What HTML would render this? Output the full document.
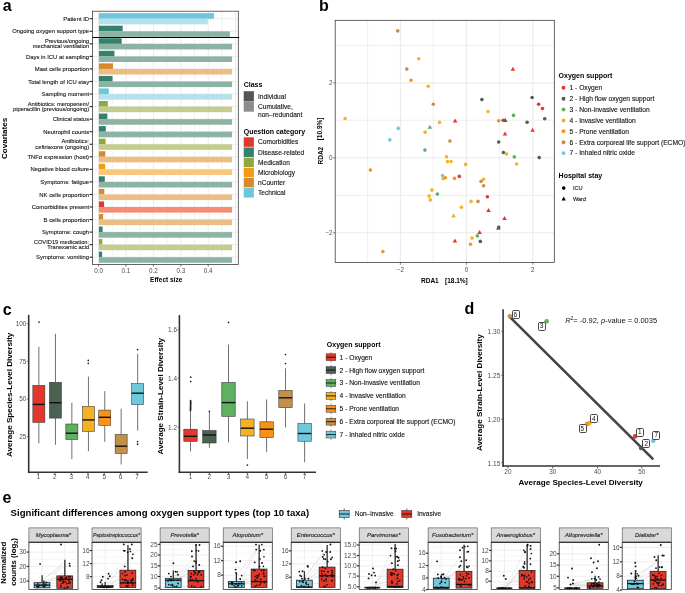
<!DOCTYPE html>
<html><head><meta charset="utf-8"><style>
html,body{margin:0;padding:0;background:#fff;}
body{width:685px;height:593px;overflow:hidden;}
svg{display:block;will-change:transform;font-family:"Liberation Sans",sans-serif;}
</style></head><body>
<svg width="685" height="593" viewBox="0 0 685 593">
<rect width="685" height="593" fill="#fff"/>
<text x="2.70" y="10.90" font-size="16" text-anchor="start" fill="#000" font-weight="bold">a</text>
<line x1="98.60" y1="11.20" x2="98.60" y2="264.40" stroke="#ebebeb" stroke-width="1.0"/>
<line x1="112.30" y1="11.20" x2="112.30" y2="264.40" stroke="#ebebeb" stroke-width="0.7"/>
<line x1="126.00" y1="11.20" x2="126.00" y2="264.40" stroke="#ebebeb" stroke-width="1.0"/>
<line x1="139.70" y1="11.20" x2="139.70" y2="264.40" stroke="#ebebeb" stroke-width="0.7"/>
<line x1="153.40" y1="11.20" x2="153.40" y2="264.40" stroke="#ebebeb" stroke-width="1.0"/>
<line x1="167.10" y1="11.20" x2="167.10" y2="264.40" stroke="#ebebeb" stroke-width="0.7"/>
<line x1="180.80" y1="11.20" x2="180.80" y2="264.40" stroke="#ebebeb" stroke-width="1.0"/>
<line x1="194.50" y1="11.20" x2="194.50" y2="264.40" stroke="#ebebeb" stroke-width="0.7"/>
<line x1="208.20" y1="11.20" x2="208.20" y2="264.40" stroke="#ebebeb" stroke-width="1.0"/>
<line x1="221.90" y1="11.20" x2="221.90" y2="264.40" stroke="#ebebeb" stroke-width="0.7"/>
<line x1="235.60" y1="11.20" x2="235.60" y2="264.40" stroke="#ebebeb" stroke-width="1.0"/>
<line x1="92.40" y1="18.75" x2="238.30" y2="18.75" stroke="#ebebeb" stroke-width="1.0"/>
<line x1="92.40" y1="31.30" x2="238.30" y2="31.30" stroke="#ebebeb" stroke-width="1.0"/>
<line x1="92.40" y1="43.85" x2="238.30" y2="43.85" stroke="#ebebeb" stroke-width="1.0"/>
<line x1="92.40" y1="56.40" x2="238.30" y2="56.40" stroke="#ebebeb" stroke-width="1.0"/>
<line x1="92.40" y1="68.95" x2="238.30" y2="68.95" stroke="#ebebeb" stroke-width="1.0"/>
<line x1="92.40" y1="81.50" x2="238.30" y2="81.50" stroke="#ebebeb" stroke-width="1.0"/>
<line x1="92.40" y1="94.05" x2="238.30" y2="94.05" stroke="#ebebeb" stroke-width="1.0"/>
<line x1="92.40" y1="106.60" x2="238.30" y2="106.60" stroke="#ebebeb" stroke-width="1.0"/>
<line x1="92.40" y1="119.15" x2="238.30" y2="119.15" stroke="#ebebeb" stroke-width="1.0"/>
<line x1="92.40" y1="131.70" x2="238.30" y2="131.70" stroke="#ebebeb" stroke-width="1.0"/>
<line x1="92.40" y1="144.25" x2="238.30" y2="144.25" stroke="#ebebeb" stroke-width="1.0"/>
<line x1="92.40" y1="156.80" x2="238.30" y2="156.80" stroke="#ebebeb" stroke-width="1.0"/>
<line x1="92.40" y1="169.35" x2="238.30" y2="169.35" stroke="#ebebeb" stroke-width="1.0"/>
<line x1="92.40" y1="181.90" x2="238.30" y2="181.90" stroke="#ebebeb" stroke-width="1.0"/>
<line x1="92.40" y1="194.45" x2="238.30" y2="194.45" stroke="#ebebeb" stroke-width="1.0"/>
<line x1="92.40" y1="207.00" x2="238.30" y2="207.00" stroke="#ebebeb" stroke-width="1.0"/>
<line x1="92.40" y1="219.55" x2="238.30" y2="219.55" stroke="#ebebeb" stroke-width="1.0"/>
<line x1="92.40" y1="232.10" x2="238.30" y2="232.10" stroke="#ebebeb" stroke-width="1.0"/>
<line x1="92.40" y1="244.65" x2="238.30" y2="244.65" stroke="#ebebeb" stroke-width="1.0"/>
<line x1="92.40" y1="257.20" x2="238.30" y2="257.20" stroke="#ebebeb" stroke-width="1.0"/>
<rect x="98.90" y="13.15" width="115.10" height="5.60" fill="#6DC7DC" stroke="none" stroke-width="0.6"/>
<rect x="98.90" y="18.75" width="108.90" height="5.60" fill="#B4E1EC" stroke="none" stroke-width="0.6"/>
<rect x="98.90" y="25.70" width="23.80" height="5.60" fill="#35806F" stroke="none" stroke-width="0.6"/>
<rect x="98.90" y="31.30" width="131.00" height="5.60" fill="#8DB3A4" stroke="none" stroke-width="0.6"/>
<rect x="98.90" y="38.25" width="22.80" height="5.60" fill="#35806F" stroke="none" stroke-width="0.6"/>
<rect x="98.90" y="43.85" width="133.20" height="5.60" fill="#8DB3A4" stroke="none" stroke-width="0.6"/>
<rect x="98.90" y="50.80" width="15.60" height="5.60" fill="#35806F" stroke="none" stroke-width="0.6"/>
<rect x="98.90" y="56.40" width="133.20" height="5.60" fill="#8DB3A4" stroke="none" stroke-width="0.6"/>
<rect x="98.90" y="63.35" width="14.10" height="5.60" fill="#D68A2E" stroke="none" stroke-width="0.6"/>
<rect x="98.90" y="68.95" width="133.20" height="5.60" fill="#EBBE84" stroke="none" stroke-width="0.6"/>
<rect x="98.90" y="75.90" width="13.60" height="5.60" fill="#35806F" stroke="none" stroke-width="0.6"/>
<rect x="98.90" y="81.50" width="133.20" height="5.60" fill="#8DB3A4" stroke="none" stroke-width="0.6"/>
<rect x="98.90" y="88.45" width="9.90" height="5.60" fill="#6DC7DC" stroke="none" stroke-width="0.6"/>
<rect x="98.90" y="94.05" width="133.20" height="5.60" fill="#B4E1EC" stroke="none" stroke-width="0.6"/>
<rect x="98.90" y="101.00" width="8.90" height="5.60" fill="#8FA83C" stroke="none" stroke-width="0.6"/>
<rect x="98.90" y="106.60" width="133.20" height="5.60" fill="#C5CD8C" stroke="none" stroke-width="0.6"/>
<rect x="98.90" y="113.55" width="8.40" height="5.60" fill="#35806F" stroke="none" stroke-width="0.6"/>
<rect x="98.90" y="119.15" width="133.20" height="5.60" fill="#8DB3A4" stroke="none" stroke-width="0.6"/>
<rect x="98.90" y="126.10" width="6.90" height="5.60" fill="#35806F" stroke="none" stroke-width="0.6"/>
<rect x="98.90" y="131.70" width="133.20" height="5.60" fill="#8DB3A4" stroke="none" stroke-width="0.6"/>
<rect x="98.90" y="138.65" width="6.70" height="5.60" fill="#8FA83C" stroke="none" stroke-width="0.6"/>
<rect x="98.90" y="144.25" width="133.20" height="5.60" fill="#C5CD8C" stroke="none" stroke-width="0.6"/>
<rect x="98.90" y="151.20" width="6.40" height="5.60" fill="#D68A2E" stroke="none" stroke-width="0.6"/>
<rect x="98.90" y="156.80" width="133.20" height="5.60" fill="#EBBE84" stroke="none" stroke-width="0.6"/>
<rect x="98.90" y="163.75" width="6.20" height="5.60" fill="#F59A14" stroke="none" stroke-width="0.6"/>
<rect x="98.90" y="169.35" width="133.20" height="5.60" fill="#F9C77C" stroke="none" stroke-width="0.6"/>
<rect x="98.90" y="176.30" width="5.90" height="5.60" fill="#35806F" stroke="none" stroke-width="0.6"/>
<rect x="98.90" y="181.90" width="133.20" height="5.60" fill="#8DB3A4" stroke="none" stroke-width="0.6"/>
<rect x="98.90" y="188.85" width="5.40" height="5.60" fill="#D68A2E" stroke="none" stroke-width="0.6"/>
<rect x="98.90" y="194.45" width="133.20" height="5.60" fill="#EBBE84" stroke="none" stroke-width="0.6"/>
<rect x="98.90" y="201.40" width="5.20" height="5.60" fill="#E2382B" stroke="none" stroke-width="0.6"/>
<rect x="98.90" y="207.00" width="133.20" height="5.60" fill="#F68C73" stroke="none" stroke-width="0.6"/>
<rect x="98.90" y="213.95" width="4.20" height="5.60" fill="#D68A2E" stroke="none" stroke-width="0.6"/>
<rect x="98.90" y="219.55" width="133.20" height="5.60" fill="#EBBE84" stroke="none" stroke-width="0.6"/>
<rect x="98.90" y="226.50" width="3.70" height="5.60" fill="#35806F" stroke="none" stroke-width="0.6"/>
<rect x="98.90" y="232.10" width="133.20" height="5.60" fill="#8DB3A4" stroke="none" stroke-width="0.6"/>
<rect x="98.90" y="239.05" width="3.40" height="5.60" fill="#8FA83C" stroke="none" stroke-width="0.6"/>
<rect x="98.90" y="244.65" width="133.20" height="5.60" fill="#C5CD8C" stroke="none" stroke-width="0.6"/>
<rect x="98.90" y="251.60" width="3.20" height="5.60" fill="#35806F" stroke="none" stroke-width="0.6"/>
<rect x="98.90" y="257.20" width="133.20" height="5.60" fill="#8DB3A4" stroke="none" stroke-width="0.6"/>
<rect x="92.40" y="11.20" width="145.90" height="253.20" fill="none" stroke="#333333" stroke-width="0.75"/>
<line x1="92.40" y1="37.50" x2="239.20" y2="37.50" stroke="#000" stroke-width="1.1"/>
<line x1="89.60" y1="18.75" x2="92.40" y2="18.75" stroke="#222" stroke-width="1.1"/>
<text x="89.10" y="20.85" font-size="5.9" text-anchor="end" fill="#1a1a1a" stroke="#1a1a1a" stroke-width="0.12">Patient ID</text>
<line x1="89.60" y1="31.30" x2="92.40" y2="31.30" stroke="#222" stroke-width="1.1"/>
<text x="89.10" y="33.40" font-size="5.9" text-anchor="end" fill="#1a1a1a" stroke="#1a1a1a" stroke-width="0.12">Ongoing oxygen support type</text>
<line x1="89.60" y1="43.85" x2="92.40" y2="43.85" stroke="#222" stroke-width="1.1"/>
<text x="89.10" y="42.95" font-size="5.72" text-anchor="end" fill="#1a1a1a" stroke="#1a1a1a" stroke-width="0.12">Previous/ongoing</text>
<text x="89.10" y="48.35" font-size="5.72" text-anchor="end" fill="#1a1a1a" stroke="#1a1a1a" stroke-width="0.12">mechanical ventilation</text>
<line x1="89.60" y1="56.40" x2="92.40" y2="56.40" stroke="#222" stroke-width="1.1"/>
<text x="89.10" y="58.50" font-size="5.9" text-anchor="end" fill="#1a1a1a" stroke="#1a1a1a" stroke-width="0.12">Days in ICU at sampling</text>
<line x1="89.60" y1="68.95" x2="92.40" y2="68.95" stroke="#222" stroke-width="1.1"/>
<text x="89.10" y="71.05" font-size="5.9" text-anchor="end" fill="#1a1a1a" stroke="#1a1a1a" stroke-width="0.12">Mast cells proportion</text>
<line x1="89.60" y1="81.50" x2="92.40" y2="81.50" stroke="#222" stroke-width="1.1"/>
<text x="89.10" y="83.60" font-size="5.9" text-anchor="end" fill="#1a1a1a" stroke="#1a1a1a" stroke-width="0.12">Total length of ICU stay</text>
<line x1="89.60" y1="94.05" x2="92.40" y2="94.05" stroke="#222" stroke-width="1.1"/>
<text x="89.10" y="96.15" font-size="5.9" text-anchor="end" fill="#1a1a1a" stroke="#1a1a1a" stroke-width="0.12">Sampling moment</text>
<line x1="89.60" y1="106.60" x2="92.40" y2="106.60" stroke="#222" stroke-width="1.1"/>
<text x="89.10" y="105.70" font-size="5.72" text-anchor="end" fill="#1a1a1a" stroke="#1a1a1a" stroke-width="0.12">Antibiotics: meropenem/</text>
<text x="89.10" y="111.10" font-size="5.72" text-anchor="end" fill="#1a1a1a" stroke="#1a1a1a" stroke-width="0.12">piperacillin (previous/ongoing)</text>
<line x1="89.60" y1="119.15" x2="92.40" y2="119.15" stroke="#222" stroke-width="1.1"/>
<text x="89.10" y="121.25" font-size="5.9" text-anchor="end" fill="#1a1a1a" stroke="#1a1a1a" stroke-width="0.12">Clinical status</text>
<line x1="89.60" y1="131.70" x2="92.40" y2="131.70" stroke="#222" stroke-width="1.1"/>
<text x="89.10" y="133.80" font-size="5.9" text-anchor="end" fill="#1a1a1a" stroke="#1a1a1a" stroke-width="0.12">Neutrophil counts</text>
<line x1="89.60" y1="144.25" x2="92.40" y2="144.25" stroke="#222" stroke-width="1.1"/>
<text x="89.10" y="143.35" font-size="5.72" text-anchor="end" fill="#1a1a1a" stroke="#1a1a1a" stroke-width="0.12">Antibiotics:</text>
<text x="89.10" y="148.75" font-size="5.72" text-anchor="end" fill="#1a1a1a" stroke="#1a1a1a" stroke-width="0.12">ceftriaxone (ongoing)</text>
<line x1="89.60" y1="156.80" x2="92.40" y2="156.80" stroke="#222" stroke-width="1.1"/>
<text x="89.10" y="158.90" font-size="5.9" text-anchor="end" fill="#1a1a1a" stroke="#1a1a1a" stroke-width="0.12">TNFα expression (host)</text>
<line x1="89.60" y1="169.35" x2="92.40" y2="169.35" stroke="#222" stroke-width="1.1"/>
<text x="89.10" y="171.45" font-size="5.9" text-anchor="end" fill="#1a1a1a" stroke="#1a1a1a" stroke-width="0.12">Negative blood culture</text>
<line x1="89.60" y1="181.90" x2="92.40" y2="181.90" stroke="#222" stroke-width="1.1"/>
<text x="89.10" y="184.00" font-size="5.9" text-anchor="end" fill="#1a1a1a" stroke="#1a1a1a" stroke-width="0.12">Symptoms: fatigue</text>
<line x1="89.60" y1="194.45" x2="92.40" y2="194.45" stroke="#222" stroke-width="1.1"/>
<text x="89.10" y="196.55" font-size="5.9" text-anchor="end" fill="#1a1a1a" stroke="#1a1a1a" stroke-width="0.12">NK cells proportion</text>
<line x1="89.60" y1="207.00" x2="92.40" y2="207.00" stroke="#222" stroke-width="1.1"/>
<text x="89.10" y="209.10" font-size="5.9" text-anchor="end" fill="#1a1a1a" stroke="#1a1a1a" stroke-width="0.12">Comorbidities present</text>
<line x1="89.60" y1="219.55" x2="92.40" y2="219.55" stroke="#222" stroke-width="1.1"/>
<text x="89.10" y="221.65" font-size="5.9" text-anchor="end" fill="#1a1a1a" stroke="#1a1a1a" stroke-width="0.12">B cells proportion</text>
<line x1="89.60" y1="232.10" x2="92.40" y2="232.10" stroke="#222" stroke-width="1.1"/>
<text x="89.10" y="234.20" font-size="5.9" text-anchor="end" fill="#1a1a1a" stroke="#1a1a1a" stroke-width="0.12">Symptoms: cough</text>
<line x1="89.60" y1="244.65" x2="92.40" y2="244.65" stroke="#222" stroke-width="1.1"/>
<text x="89.10" y="243.75" font-size="5.72" text-anchor="end" fill="#1a1a1a" stroke="#1a1a1a" stroke-width="0.12">COVID19 medication:</text>
<text x="89.10" y="249.15" font-size="5.72" text-anchor="end" fill="#1a1a1a" stroke="#1a1a1a" stroke-width="0.12">Tranexamic acid</text>
<line x1="89.60" y1="257.20" x2="92.40" y2="257.20" stroke="#222" stroke-width="1.1"/>
<text x="89.10" y="259.30" font-size="5.9" text-anchor="end" fill="#1a1a1a" stroke="#1a1a1a" stroke-width="0.12">Symptoms: vomiting</text>
<line x1="98.60" y1="264.40" x2="98.60" y2="266.80" stroke="#333333" stroke-width="0.6"/>
<text x="98.60" y="272.70" font-size="6.3" text-anchor="middle" fill="#4d4d4d">0.0</text>
<line x1="126.00" y1="264.40" x2="126.00" y2="266.80" stroke="#333333" stroke-width="0.6"/>
<text x="126.00" y="272.70" font-size="6.3" text-anchor="middle" fill="#4d4d4d">0.1</text>
<line x1="153.40" y1="264.40" x2="153.40" y2="266.80" stroke="#333333" stroke-width="0.6"/>
<text x="153.40" y="272.70" font-size="6.3" text-anchor="middle" fill="#4d4d4d">0.2</text>
<line x1="180.80" y1="264.40" x2="180.80" y2="266.80" stroke="#333333" stroke-width="0.6"/>
<text x="180.80" y="272.70" font-size="6.3" text-anchor="middle" fill="#4d4d4d">0.3</text>
<line x1="208.20" y1="264.40" x2="208.20" y2="266.80" stroke="#333333" stroke-width="0.6"/>
<text x="208.20" y="272.70" font-size="6.3" text-anchor="middle" fill="#4d4d4d">0.4</text>
<text x="166.20" y="282.40" font-size="6.5" text-anchor="middle" fill="#000" font-weight="bold">Effect size</text>
<text x="6.90" y="138.40" font-size="8.1" text-anchor="middle" fill="#000" font-weight="bold" transform="rotate(-90 6.90 138.40)">Covariates</text>
<text x="243.70" y="87.40" font-size="7.0" text-anchor="start" fill="#000" font-weight="bold">Class</text>
<rect x="243.70" y="91.20" width="10.20" height="10.10" fill="#555555" stroke="none" stroke-width="0.6"/>
<rect x="243.70" y="101.30" width="10.20" height="10.40" fill="#8C8C8C" stroke="none" stroke-width="0.6"/>
<text x="258.00" y="98.60" font-size="6.6" text-anchor="start" fill="#111" stroke="#1a1a1a" stroke-width="0.12">Individual</text>
<text x="258.00" y="108.70" font-size="6.6" text-anchor="start" fill="#111" stroke="#1a1a1a" stroke-width="0.12">Cumulative,</text>
<text x="258.00" y="116.80" font-size="6.6" text-anchor="start" fill="#111" stroke="#1a1a1a" stroke-width="0.12">non–redundant</text>
<text x="243.70" y="134.00" font-size="7.0" text-anchor="start" fill="#000" font-weight="bold">Question category</text>
<rect x="243.70" y="137.30" width="10.20" height="9.50" fill="#E2382B" stroke="none" stroke-width="0.6"/>
<text x="258.00" y="144.40" font-size="6.6" text-anchor="start" fill="#111" stroke="#1a1a1a" stroke-width="0.12">Comorbidities</text>
<rect x="243.70" y="147.45" width="10.20" height="9.50" fill="#35806F" stroke="none" stroke-width="0.6"/>
<text x="258.00" y="154.55" font-size="6.6" text-anchor="start" fill="#111" stroke="#1a1a1a" stroke-width="0.12">Disease-related</text>
<rect x="243.70" y="157.60" width="10.20" height="9.50" fill="#8FA83C" stroke="none" stroke-width="0.6"/>
<text x="258.00" y="164.70" font-size="6.6" text-anchor="start" fill="#111" stroke="#1a1a1a" stroke-width="0.12">Medication</text>
<rect x="243.70" y="167.75" width="10.20" height="9.50" fill="#F59A14" stroke="none" stroke-width="0.6"/>
<text x="258.00" y="174.85" font-size="6.6" text-anchor="start" fill="#111" stroke="#1a1a1a" stroke-width="0.12">Microbiology</text>
<rect x="243.70" y="177.90" width="10.20" height="9.50" fill="#D68A2E" stroke="none" stroke-width="0.6"/>
<text x="258.00" y="185.00" font-size="6.6" text-anchor="start" fill="#111" stroke="#1a1a1a" stroke-width="0.12">nCounter</text>
<rect x="243.70" y="188.05" width="10.20" height="9.50" fill="#6DC7DC" stroke="none" stroke-width="0.6"/>
<text x="258.00" y="195.15" font-size="6.6" text-anchor="start" fill="#111" stroke="#1a1a1a" stroke-width="0.12">Technical</text>
<text x="319.10" y="11.40" font-size="16" text-anchor="start" fill="#000" font-weight="bold">b</text>
<line x1="367.70" y1="20.30" x2="367.70" y2="262.40" stroke="#ebebeb" stroke-width="0.8"/>
<line x1="400.40" y1="20.30" x2="400.40" y2="262.40" stroke="#ebebeb" stroke-width="1.1"/>
<line x1="433.20" y1="20.30" x2="433.20" y2="262.40" stroke="#ebebeb" stroke-width="0.8"/>
<line x1="466.40" y1="20.30" x2="466.40" y2="262.40" stroke="#ebebeb" stroke-width="1.1"/>
<line x1="499.60" y1="20.30" x2="499.60" y2="262.40" stroke="#ebebeb" stroke-width="0.8"/>
<line x1="532.80" y1="20.30" x2="532.80" y2="262.40" stroke="#ebebeb" stroke-width="1.1"/>
<line x1="335.20" y1="45.40" x2="554.30" y2="45.40" stroke="#ebebeb" stroke-width="0.8"/>
<line x1="335.20" y1="82.90" x2="554.30" y2="82.90" stroke="#ebebeb" stroke-width="1.1"/>
<line x1="335.20" y1="120.30" x2="554.30" y2="120.30" stroke="#ebebeb" stroke-width="0.8"/>
<line x1="335.20" y1="157.80" x2="554.30" y2="157.80" stroke="#ebebeb" stroke-width="1.1"/>
<line x1="335.20" y1="195.30" x2="554.30" y2="195.30" stroke="#ebebeb" stroke-width="0.8"/>
<line x1="335.20" y1="232.80" x2="554.30" y2="232.80" stroke="#ebebeb" stroke-width="1.1"/>
<circle cx="397.70" cy="30.90" r="1.8" fill="#C49049"/>
<circle cx="418.70" cy="58.80" r="1.8" fill="#F4B223"/>
<circle cx="406.80" cy="69.10" r="1.8" fill="#C49049"/>
<circle cx="411.00" cy="80.30" r="1.8" fill="#F69318"/>
<circle cx="428.20" cy="86.30" r="1.8" fill="#F4B223"/>
<circle cx="433.30" cy="104.30" r="1.8" fill="#C49049"/>
<circle cx="345.10" cy="118.50" r="1.8" fill="#F4B223"/>
<circle cx="439.50" cy="122.40" r="1.8" fill="#F4B223"/>
<circle cx="398.30" cy="128.40" r="1.8" fill="#6FC9DD"/>
<path d="M429.90 124.73L432.20 128.87L427.60 128.87Z" fill="#5DB160"/>
<circle cx="425.10" cy="132.20" r="1.8" fill="#F4B223"/>
<circle cx="389.80" cy="139.90" r="1.8" fill="#6FC9DD"/>
<path d="M512.90 66.63L515.20 70.77L510.60 70.77Z" fill="#E2382B"/>
<circle cx="481.90" cy="99.60" r="1.8" fill="#4B6152"/>
<circle cx="532.10" cy="97.50" r="1.8" fill="#4B6152"/>
<circle cx="538.60" cy="104.20" r="1.8" fill="#E2382B"/>
<circle cx="542.50" cy="108.50" r="1.8" fill="#E2382B"/>
<circle cx="488.00" cy="111.50" r="1.8" fill="#F4B223"/>
<circle cx="513.50" cy="115.40" r="1.8" fill="#5DB160"/>
<circle cx="544.70" cy="118.80" r="1.8" fill="#4B6152"/>
<path d="M455.10 118.43L457.40 122.57L452.80 122.57Z" fill="#E2382B"/>
<circle cx="498.70" cy="120.80" r="1.8" fill="#F69318"/>
<circle cx="503.20" cy="120.20" r="1.8" fill="#E2382B"/>
<path d="M505.20 117.83L507.50 121.97L502.90 121.97Z" fill="#4B6152"/>
<circle cx="527.10" cy="122.20" r="1.8" fill="#4B6152"/>
<path d="M532.60 127.63L534.90 131.77L530.30 131.77Z" fill="#E2382B"/>
<path d="M505.00 131.43L507.30 135.57L502.70 135.57Z" fill="#E2382B"/>
<circle cx="424.90" cy="150.10" r="1.8" fill="#5DB160"/>
<circle cx="370.40" cy="170.10" r="1.8" fill="#F69318"/>
<circle cx="442.50" cy="175.50" r="1.8" fill="#6FC9DD"/>
<circle cx="443.10" cy="178.60" r="1.8" fill="#F4B223"/>
<circle cx="445.40" cy="177.70" r="1.8" fill="#F69318"/>
<circle cx="454.50" cy="178.40" r="1.8" fill="#F69318"/>
<circle cx="459.30" cy="176.40" r="1.8" fill="#E2382B"/>
<circle cx="431.90" cy="190.10" r="1.8" fill="#F4B223"/>
<circle cx="429.20" cy="196.10" r="1.8" fill="#F4B223"/>
<circle cx="437.40" cy="194.10" r="1.8" fill="#5DB160"/>
<circle cx="430.30" cy="199.90" r="1.8" fill="#F4B223"/>
<circle cx="382.90" cy="251.60" r="1.8" fill="#F69318"/>
<circle cx="449.90" cy="141.10" r="1.8" fill="#C49049"/>
<circle cx="498.70" cy="142.00" r="1.8" fill="#4B6152"/>
<circle cx="503.40" cy="152.50" r="1.8" fill="#4B6152"/>
<circle cx="506.50" cy="154.00" r="1.8" fill="#F4B223"/>
<circle cx="514.30" cy="156.90" r="1.8" fill="#5DB160"/>
<circle cx="539.20" cy="157.60" r="1.8" fill="#4B6152"/>
<circle cx="446.50" cy="156.80" r="1.8" fill="#F4B223"/>
<circle cx="447.50" cy="161.60" r="1.8" fill="#F4B223"/>
<circle cx="451.10" cy="161.60" r="1.8" fill="#F4B223"/>
<circle cx="465.60" cy="164.40" r="1.8" fill="#F4B223"/>
<circle cx="516.70" cy="164.00" r="1.8" fill="#F4B223"/>
<circle cx="483.60" cy="179.20" r="1.8" fill="#F4B223"/>
<circle cx="481.10" cy="181.40" r="1.8" fill="#C49049"/>
<circle cx="483.60" cy="185.80" r="1.8" fill="#C49049"/>
<circle cx="487.40" cy="196.70" r="1.8" fill="#E2382B"/>
<circle cx="471.10" cy="201.40" r="1.8" fill="#F4B223"/>
<circle cx="478.00" cy="201.40" r="1.8" fill="#C49049"/>
<circle cx="461.40" cy="207.20" r="1.8" fill="#F4B223"/>
<path d="M488.50 207.93L490.80 212.07L486.20 212.07Z" fill="#E2382B"/>
<path d="M453.60 213.33L455.90 217.47L451.30 217.47Z" fill="#F4B223"/>
<path d="M504.50 215.93L506.80 220.07L502.20 220.07Z" fill="#E2382B"/>
<path d="M498.30 225.73L500.60 229.87L496.00 229.87Z" fill="#E2382B"/>
<circle cx="498.70" cy="227.40" r="1.8" fill="#4B6152"/>
<path d="M479.60 229.93L481.90 234.07L477.30 234.07Z" fill="#E2382B"/>
<circle cx="477.40" cy="235.90" r="1.8" fill="#5DB160"/>
<circle cx="472.00" cy="238.10" r="1.8" fill="#F4B223"/>
<circle cx="480.30" cy="241.40" r="1.8" fill="#4B6152"/>
<path d="M454.90 238.43L457.20 242.57L452.60 242.57Z" fill="#E2382B"/>
<circle cx="470.50" cy="244.30" r="1.8" fill="#F69318"/>
<rect x="335.20" y="20.30" width="219.10" height="242.10" fill="none" stroke="#333333" stroke-width="0.75"/>
<line x1="332.90" y1="82.90" x2="335.20" y2="82.90" stroke="#333333" stroke-width="0.6"/>
<text x="332.60" y="85.10" font-size="6.3" text-anchor="end" fill="#4d4d4d">2</text>
<line x1="332.90" y1="157.80" x2="335.20" y2="157.80" stroke="#333333" stroke-width="0.6"/>
<text x="332.60" y="160.00" font-size="6.3" text-anchor="end" fill="#4d4d4d">0</text>
<line x1="332.90" y1="232.80" x2="335.20" y2="232.80" stroke="#333333" stroke-width="0.6"/>
<text x="332.60" y="235.00" font-size="6.3" text-anchor="end" fill="#4d4d4d">−2</text>
<line x1="400.40" y1="262.40" x2="400.40" y2="264.70" stroke="#333333" stroke-width="0.6"/>
<text x="400.40" y="271.80" font-size="6.3" text-anchor="middle" fill="#4d4d4d">−2</text>
<line x1="466.40" y1="262.40" x2="466.40" y2="264.70" stroke="#333333" stroke-width="0.6"/>
<text x="466.40" y="271.80" font-size="6.3" text-anchor="middle" fill="#4d4d4d">0</text>
<line x1="532.80" y1="262.40" x2="532.80" y2="264.70" stroke="#333333" stroke-width="0.6"/>
<text x="532.80" y="271.80" font-size="6.3" text-anchor="middle" fill="#4d4d4d">2</text>
<text x="421.00" y="283.00" font-size="6.5" text-anchor="start" fill="#000" font-weight="bold">RDA1</text>
<text x="445.00" y="283.00" font-size="6.5" text-anchor="start" fill="#000" font-weight="bold">[18.1%]</text>
<text x="322.50" y="164.50" font-size="6.5" text-anchor="start" fill="#000" font-weight="bold" transform="rotate(-90 322.50 164.50)">RDA2</text>
<text x="322.50" y="140.30" font-size="6.5" text-anchor="start" fill="#000" font-weight="bold" transform="rotate(-90 322.50 140.30)">[10.9%]</text>
<text x="558.60" y="78.30" font-size="7.0" text-anchor="start" fill="#000" font-weight="bold">Oxygen support</text>
<circle cx="563.50" cy="87.80" r="1.95" fill="#E2382B"/>
<text x="569.50" y="90.10" font-size="6.7" text-anchor="start" fill="#111" stroke="#1a1a1a" stroke-width="0.12">1 - Oxygen</text>
<circle cx="563.50" cy="98.68" r="1.95" fill="#4B6152"/>
<text x="569.50" y="100.98" font-size="6.7" text-anchor="start" fill="#111" stroke="#1a1a1a" stroke-width="0.12">2 - High flow oxygen support</text>
<circle cx="563.50" cy="109.56" r="1.95" fill="#5DB160"/>
<text x="569.50" y="111.86" font-size="6.7" text-anchor="start" fill="#111" stroke="#1a1a1a" stroke-width="0.12">3 - Non-invasive ventilation</text>
<circle cx="563.50" cy="120.44" r="1.95" fill="#F4B223"/>
<text x="569.50" y="122.74" font-size="6.7" text-anchor="start" fill="#111" stroke="#1a1a1a" stroke-width="0.12">4 - Invasive ventilation</text>
<circle cx="563.50" cy="131.32" r="1.95" fill="#F69318"/>
<text x="569.50" y="133.62" font-size="6.7" text-anchor="start" fill="#111" stroke="#1a1a1a" stroke-width="0.12">5 - Prone ventilation</text>
<circle cx="563.50" cy="142.20" r="1.95" fill="#C49049"/>
<text x="569.50" y="144.50" font-size="6.7" text-anchor="start" fill="#111" stroke="#1a1a1a" stroke-width="0.12">6 - Extra corporeal life support (ECMO)</text>
<circle cx="563.50" cy="153.08" r="1.95" fill="#6FC9DD"/>
<text x="569.50" y="155.38" font-size="6.7" text-anchor="start" fill="#111" stroke="#1a1a1a" stroke-width="0.12">7 - Inhaled nitric oxide</text>
<text x="558.60" y="178.20" font-size="7.0" text-anchor="start" fill="#000" font-weight="bold">Hospital stay</text>
<circle cx="563.70" cy="188.10" r="1.8" fill="#000"/>
<text x="572.90" y="189.80" font-size="5.6" text-anchor="start" fill="#111" stroke="#1a1a1a" stroke-width="0.12">ICU</text>
<path d="M563.70 196.60L565.85 200.47L561.55 200.47Z" fill="#000"/>
<text x="572.90" y="201.00" font-size="5.6" text-anchor="start" fill="#111" stroke="#1a1a1a" stroke-width="0.12">Ward</text>
<text x="2.70" y="314.60" font-size="16" text-anchor="start" fill="#000" font-weight="bold">c</text>
<line x1="28.70" y1="314.90" x2="28.70" y2="473.10" stroke="#333" stroke-width="1.6"/>
<line x1="27.90" y1="472.30" x2="147.70" y2="472.30" stroke="#333" stroke-width="1.6"/>
<line x1="26.80" y1="323.60" x2="28.70" y2="323.60" stroke="#333333" stroke-width="0.6"/>
<text x="26.30" y="325.90" font-size="6.4" text-anchor="end" fill="#4d4d4d">100</text>
<line x1="26.80" y1="361.30" x2="28.70" y2="361.30" stroke="#333333" stroke-width="0.6"/>
<text x="26.30" y="363.60" font-size="6.4" text-anchor="end" fill="#4d4d4d">75</text>
<line x1="26.80" y1="399.00" x2="28.70" y2="399.00" stroke="#333333" stroke-width="0.6"/>
<text x="26.30" y="401.30" font-size="6.4" text-anchor="end" fill="#4d4d4d">50</text>
<line x1="26.80" y1="436.60" x2="28.70" y2="436.60" stroke="#333333" stroke-width="0.6"/>
<text x="26.30" y="438.90" font-size="6.4" text-anchor="end" fill="#4d4d4d">25</text>
<line x1="38.30" y1="473.00" x2="38.30" y2="474.90" stroke="#333333" stroke-width="0.8"/>
<text x="38.30" y="479.10" font-size="6.4" text-anchor="middle" fill="#4d4d4d">1</text>
<line x1="54.90" y1="473.00" x2="54.90" y2="474.90" stroke="#333333" stroke-width="0.8"/>
<text x="54.90" y="479.10" font-size="6.4" text-anchor="middle" fill="#4d4d4d">2</text>
<line x1="71.30" y1="473.00" x2="71.30" y2="474.90" stroke="#333333" stroke-width="0.8"/>
<text x="71.30" y="479.10" font-size="6.4" text-anchor="middle" fill="#4d4d4d">3</text>
<line x1="87.90" y1="473.00" x2="87.90" y2="474.90" stroke="#333333" stroke-width="0.8"/>
<text x="87.90" y="479.10" font-size="6.4" text-anchor="middle" fill="#4d4d4d">4</text>
<line x1="104.20" y1="473.00" x2="104.20" y2="474.90" stroke="#333333" stroke-width="0.8"/>
<text x="104.20" y="479.10" font-size="6.4" text-anchor="middle" fill="#4d4d4d">5</text>
<line x1="120.60" y1="473.00" x2="120.60" y2="474.90" stroke="#333333" stroke-width="0.8"/>
<text x="120.60" y="479.10" font-size="6.4" text-anchor="middle" fill="#4d4d4d">6</text>
<line x1="137.10" y1="473.00" x2="137.10" y2="474.90" stroke="#333333" stroke-width="0.8"/>
<text x="137.10" y="479.10" font-size="6.4" text-anchor="middle" fill="#4d4d4d">7</text>
<line x1="38.85" y1="346.70" x2="38.85" y2="385.40" stroke="#333" stroke-width="0.7"/>
<line x1="38.85" y1="422.40" x2="38.85" y2="443.40" stroke="#333" stroke-width="0.7"/>
<rect x="32.85" y="385.40" width="12.00" height="37.00" fill="#E2382B" stroke="#333" stroke-width="0.55"/>
<line x1="32.85" y1="404.40" x2="44.85" y2="404.40" stroke="#111" stroke-width="1.4"/>
<circle cx="39.00" cy="322.10" r="0.85" fill="#222"/>
<line x1="55.45" y1="333.80" x2="55.45" y2="382.30" stroke="#333" stroke-width="0.7"/>
<line x1="55.45" y1="418.10" x2="55.45" y2="444.80" stroke="#333" stroke-width="0.7"/>
<rect x="49.45" y="382.30" width="12.00" height="35.80" fill="#4B6152" stroke="#333" stroke-width="0.55"/>
<line x1="49.45" y1="402.70" x2="61.45" y2="402.70" stroke="#111" stroke-width="1.4"/>
<line x1="71.85" y1="402.70" x2="71.85" y2="424.00" stroke="#333" stroke-width="0.7"/>
<line x1="71.85" y1="439.50" x2="71.85" y2="459.20" stroke="#333" stroke-width="0.7"/>
<rect x="65.85" y="424.00" width="12.00" height="15.50" fill="#5DB160" stroke="#333" stroke-width="0.55"/>
<line x1="65.85" y1="433.20" x2="77.85" y2="433.20" stroke="#111" stroke-width="1.4"/>
<line x1="88.45" y1="376.60" x2="88.45" y2="406.40" stroke="#333" stroke-width="0.7"/>
<line x1="88.45" y1="431.40" x2="88.45" y2="451.20" stroke="#333" stroke-width="0.7"/>
<rect x="82.45" y="406.40" width="12.00" height="25.00" fill="#F4B223" stroke="#333" stroke-width="0.55"/>
<line x1="82.45" y1="419.90" x2="94.45" y2="419.90" stroke="#111" stroke-width="1.4"/>
<circle cx="88.30" cy="360.40" r="0.85" fill="#222"/>
<circle cx="88.30" cy="363.30" r="0.85" fill="#222"/>
<line x1="104.75" y1="391.20" x2="104.75" y2="410.10" stroke="#333" stroke-width="0.7"/>
<line x1="104.75" y1="425.40" x2="104.75" y2="441.80" stroke="#333" stroke-width="0.7"/>
<rect x="98.75" y="410.10" width="12.00" height="15.30" fill="#F69318" stroke="#333" stroke-width="0.55"/>
<line x1="98.75" y1="417.30" x2="110.75" y2="417.30" stroke="#111" stroke-width="1.4"/>
<line x1="121.15" y1="408.70" x2="121.15" y2="434.40" stroke="#333" stroke-width="0.7"/>
<line x1="121.15" y1="453.50" x2="121.15" y2="464.50" stroke="#333" stroke-width="0.7"/>
<rect x="115.15" y="434.40" width="12.00" height="19.10" fill="#C49049" stroke="#333" stroke-width="0.55"/>
<line x1="115.15" y1="446.20" x2="127.15" y2="446.20" stroke="#111" stroke-width="1.4"/>
<line x1="137.65" y1="353.60" x2="137.65" y2="383.70" stroke="#333" stroke-width="0.7"/>
<line x1="137.65" y1="404.70" x2="137.65" y2="430.50" stroke="#333" stroke-width="0.7"/>
<rect x="131.65" y="383.70" width="12.00" height="21.00" fill="#6FC9DD" stroke="#333" stroke-width="0.55"/>
<line x1="131.65" y1="393.20" x2="143.65" y2="393.20" stroke="#111" stroke-width="1.4"/>
<circle cx="137.60" cy="349.60" r="0.85" fill="#222"/>
<circle cx="137.60" cy="441.60" r="0.85" fill="#222"/>
<circle cx="137.60" cy="444.20" r="0.85" fill="#222"/>
<text x="12.50" y="394.80" font-size="8.1" text-anchor="middle" fill="#000" font-weight="bold" transform="rotate(-90 12.50 394.80)">Average Species-Level Diversity</text>
<line x1="179.40" y1="315.10" x2="179.40" y2="473.10" stroke="#333" stroke-width="1.6"/>
<line x1="178.60" y1="472.30" x2="316.00" y2="472.30" stroke="#333" stroke-width="1.6"/>
<line x1="177.50" y1="329.80" x2="179.40" y2="329.80" stroke="#333333" stroke-width="0.6"/>
<text x="177.00" y="332.10" font-size="6.4" text-anchor="end" fill="#4d4d4d">1.6</text>
<line x1="177.50" y1="378.20" x2="179.40" y2="378.20" stroke="#333333" stroke-width="0.6"/>
<text x="177.00" y="380.50" font-size="6.4" text-anchor="end" fill="#4d4d4d">1.4</text>
<line x1="177.50" y1="427.30" x2="179.40" y2="427.30" stroke="#333333" stroke-width="0.6"/>
<text x="177.00" y="429.60" font-size="6.4" text-anchor="end" fill="#4d4d4d">1.2</text>
<line x1="190.50" y1="473.00" x2="190.50" y2="474.90" stroke="#333333" stroke-width="0.8"/>
<text x="190.50" y="479.10" font-size="6.4" text-anchor="middle" fill="#4d4d4d">1</text>
<line x1="209.40" y1="473.00" x2="209.40" y2="474.90" stroke="#333333" stroke-width="0.8"/>
<text x="209.40" y="479.10" font-size="6.4" text-anchor="middle" fill="#4d4d4d">2</text>
<line x1="228.50" y1="473.00" x2="228.50" y2="474.90" stroke="#333333" stroke-width="0.8"/>
<text x="228.50" y="479.10" font-size="6.4" text-anchor="middle" fill="#4d4d4d">3</text>
<line x1="247.40" y1="473.00" x2="247.40" y2="474.90" stroke="#333333" stroke-width="0.8"/>
<text x="247.40" y="479.10" font-size="6.4" text-anchor="middle" fill="#4d4d4d">4</text>
<line x1="266.60" y1="473.00" x2="266.60" y2="474.90" stroke="#333333" stroke-width="0.8"/>
<text x="266.60" y="479.10" font-size="6.4" text-anchor="middle" fill="#4d4d4d">5</text>
<line x1="285.50" y1="473.00" x2="285.50" y2="474.90" stroke="#333333" stroke-width="0.8"/>
<text x="285.50" y="479.10" font-size="6.4" text-anchor="middle" fill="#4d4d4d">6</text>
<line x1="304.60" y1="473.00" x2="304.60" y2="474.90" stroke="#333333" stroke-width="0.8"/>
<text x="304.60" y="479.10" font-size="6.4" text-anchor="middle" fill="#4d4d4d">7</text>
<line x1="190.50" y1="401.00" x2="190.50" y2="429.20" stroke="#333" stroke-width="0.7"/>
<line x1="190.50" y1="441.40" x2="190.50" y2="451.30" stroke="#333" stroke-width="0.7"/>
<rect x="183.80" y="429.20" width="13.40" height="12.20" fill="#E2382B" stroke="#333" stroke-width="0.55"/>
<line x1="183.80" y1="436.30" x2="197.20" y2="436.30" stroke="#111" stroke-width="1.4"/>
<circle cx="190.70" cy="377.20" r="0.85" fill="#222"/>
<circle cx="190.70" cy="381.60" r="0.85" fill="#222"/>
<circle cx="190.59" cy="400.60" r="0.85" fill="#222"/>
<circle cx="190.49" cy="401.50" r="0.85" fill="#222"/>
<circle cx="190.79" cy="402.40" r="0.85" fill="#222"/>
<circle cx="190.44" cy="403.30" r="0.85" fill="#222"/>
<circle cx="190.72" cy="404.20" r="0.85" fill="#222"/>
<circle cx="190.62" cy="405.10" r="0.85" fill="#222"/>
<circle cx="190.43" cy="406.00" r="0.85" fill="#222"/>
<circle cx="190.70" cy="406.90" r="0.85" fill="#222"/>
<circle cx="190.42" cy="407.80" r="0.85" fill="#222"/>
<circle cx="190.66" cy="408.70" r="0.85" fill="#222"/>
<circle cx="190.44" cy="409.60" r="0.85" fill="#222"/>
<circle cx="190.45" cy="410.50" r="0.85" fill="#222"/>
<line x1="209.40" y1="411.80" x2="209.40" y2="430.50" stroke="#333" stroke-width="0.7"/>
<line x1="209.40" y1="443.00" x2="209.40" y2="447.80" stroke="#333" stroke-width="0.7"/>
<rect x="202.70" y="430.50" width="13.40" height="12.50" fill="#4B6152" stroke="#333" stroke-width="0.55"/>
<line x1="202.70" y1="435.00" x2="216.10" y2="435.00" stroke="#111" stroke-width="1.4"/>
<circle cx="209.40" cy="411.30" r="0.85" fill="#222"/>
<line x1="228.50" y1="344.60" x2="228.50" y2="382.40" stroke="#333" stroke-width="0.7"/>
<line x1="228.50" y1="416.40" x2="228.50" y2="442.40" stroke="#333" stroke-width="0.7"/>
<rect x="221.80" y="382.40" width="13.40" height="34.00" fill="#5DB160" stroke="#333" stroke-width="0.55"/>
<line x1="221.80" y1="402.60" x2="235.20" y2="402.60" stroke="#111" stroke-width="1.4"/>
<circle cx="228.50" cy="322.40" r="0.85" fill="#222"/>
<line x1="247.40" y1="401.30" x2="247.40" y2="419.00" stroke="#333" stroke-width="0.7"/>
<line x1="247.40" y1="436.00" x2="247.40" y2="459.00" stroke="#333" stroke-width="0.7"/>
<rect x="240.70" y="419.00" width="13.40" height="17.00" fill="#F4B223" stroke="#333" stroke-width="0.55"/>
<line x1="240.70" y1="428.20" x2="254.10" y2="428.20" stroke="#111" stroke-width="1.4"/>
<circle cx="247.40" cy="465.10" r="0.85" fill="#222"/>
<line x1="266.60" y1="399.40" x2="266.60" y2="421.80" stroke="#333" stroke-width="0.7"/>
<line x1="266.60" y1="437.50" x2="266.60" y2="452.00" stroke="#333" stroke-width="0.7"/>
<rect x="259.90" y="421.80" width="13.40" height="15.70" fill="#F69318" stroke="#333" stroke-width="0.55"/>
<line x1="259.90" y1="429.20" x2="273.30" y2="429.20" stroke="#111" stroke-width="1.4"/>
<line x1="285.50" y1="368.30" x2="285.50" y2="390.40" stroke="#333" stroke-width="0.7"/>
<line x1="285.50" y1="407.70" x2="285.50" y2="427.30" stroke="#333" stroke-width="0.7"/>
<rect x="278.80" y="390.40" width="13.40" height="17.30" fill="#C49049" stroke="#333" stroke-width="0.55"/>
<line x1="278.80" y1="397.80" x2="292.20" y2="397.80" stroke="#111" stroke-width="1.4"/>
<circle cx="285.50" cy="354.50" r="0.85" fill="#222"/>
<circle cx="285.50" cy="363.50" r="0.85" fill="#222"/>
<line x1="304.60" y1="403.50" x2="304.60" y2="423.50" stroke="#333" stroke-width="0.7"/>
<line x1="304.60" y1="441.20" x2="304.60" y2="462.30" stroke="#333" stroke-width="0.7"/>
<rect x="297.90" y="423.50" width="13.40" height="17.70" fill="#6FC9DD" stroke="#333" stroke-width="0.55"/>
<line x1="297.90" y1="433.50" x2="311.30" y2="433.50" stroke="#111" stroke-width="1.4"/>
<text x="162.60" y="396.20" font-size="8.1" text-anchor="middle" fill="#000" font-weight="bold" transform="rotate(-90 162.60 396.20)">Average Strain-Level Diversity</text>
<text x="326.80" y="346.50" font-size="7.0" text-anchor="start" fill="#000" font-weight="bold">Oxygen support</text>
<line x1="331.00" y1="352.20" x2="331.00" y2="362.40" stroke="#444" stroke-width="0.6"/>
<rect x="326.10" y="353.80" width="9.70" height="6.80" fill="#E2382B" stroke="#333" stroke-width="0.5"/>
<line x1="326.10" y1="357.20" x2="335.80" y2="357.20" stroke="#111" stroke-width="0.9"/>
<text x="339.60" y="359.60" font-size="6.7" text-anchor="start" fill="#111" stroke="#1a1a1a" stroke-width="0.12">1 - Oxygen</text>
<line x1="331.00" y1="365.10" x2="331.00" y2="375.30" stroke="#444" stroke-width="0.6"/>
<rect x="326.10" y="366.70" width="9.70" height="6.80" fill="#4B6152" stroke="#333" stroke-width="0.5"/>
<line x1="326.10" y1="370.10" x2="335.80" y2="370.10" stroke="#111" stroke-width="0.9"/>
<text x="339.60" y="372.50" font-size="6.7" text-anchor="start" fill="#111" stroke="#1a1a1a" stroke-width="0.12">2 - High flow oxygen support</text>
<line x1="331.00" y1="378.00" x2="331.00" y2="388.20" stroke="#444" stroke-width="0.6"/>
<rect x="326.10" y="379.60" width="9.70" height="6.80" fill="#5DB160" stroke="#333" stroke-width="0.5"/>
<line x1="326.10" y1="383.00" x2="335.80" y2="383.00" stroke="#111" stroke-width="0.9"/>
<text x="339.60" y="385.40" font-size="6.7" text-anchor="start" fill="#111" stroke="#1a1a1a" stroke-width="0.12">3 - Non-invasive ventilation</text>
<line x1="331.00" y1="390.90" x2="331.00" y2="401.10" stroke="#444" stroke-width="0.6"/>
<rect x="326.10" y="392.50" width="9.70" height="6.80" fill="#F4B223" stroke="#333" stroke-width="0.5"/>
<line x1="326.10" y1="395.90" x2="335.80" y2="395.90" stroke="#111" stroke-width="0.9"/>
<text x="339.60" y="398.30" font-size="6.7" text-anchor="start" fill="#111" stroke="#1a1a1a" stroke-width="0.12">4 - Invasive ventilation</text>
<line x1="331.00" y1="403.80" x2="331.00" y2="414.00" stroke="#444" stroke-width="0.6"/>
<rect x="326.10" y="405.40" width="9.70" height="6.80" fill="#F69318" stroke="#333" stroke-width="0.5"/>
<line x1="326.10" y1="408.80" x2="335.80" y2="408.80" stroke="#111" stroke-width="0.9"/>
<text x="339.60" y="411.20" font-size="6.7" text-anchor="start" fill="#111" stroke="#1a1a1a" stroke-width="0.12">5 - Prone ventilation</text>
<line x1="331.00" y1="416.70" x2="331.00" y2="426.90" stroke="#444" stroke-width="0.6"/>
<rect x="326.10" y="418.30" width="9.70" height="6.80" fill="#C49049" stroke="#333" stroke-width="0.5"/>
<line x1="326.10" y1="421.70" x2="335.80" y2="421.70" stroke="#111" stroke-width="0.9"/>
<text x="339.60" y="424.10" font-size="6.7" text-anchor="start" fill="#111" stroke="#1a1a1a" stroke-width="0.12">6 - Extra corporeal life support (ECMO)</text>
<line x1="331.00" y1="429.60" x2="331.00" y2="439.80" stroke="#444" stroke-width="0.6"/>
<rect x="326.10" y="431.20" width="9.70" height="6.80" fill="#6FC9DD" stroke="#333" stroke-width="0.5"/>
<line x1="326.10" y1="434.60" x2="335.80" y2="434.60" stroke="#111" stroke-width="0.9"/>
<text x="339.60" y="437.00" font-size="6.7" text-anchor="start" fill="#111" stroke="#1a1a1a" stroke-width="0.12">7 - Inhaled nitric oxide</text>
<text x="464.60" y="314.30" font-size="16" text-anchor="start" fill="#000" font-weight="bold">d</text>
<line x1="503.10" y1="309.20" x2="503.10" y2="466.80" stroke="#333" stroke-width="1.6"/>
<line x1="502.30" y1="466.00" x2="660.00" y2="466.00" stroke="#333" stroke-width="1.6"/>
<line x1="501.20" y1="331.10" x2="503.10" y2="331.10" stroke="#333333" stroke-width="0.6"/>
<text x="500.40" y="333.90" font-size="6.6" text-anchor="end" fill="#4d4d4d">1.30</text>
<line x1="501.20" y1="375.30" x2="503.10" y2="375.30" stroke="#333333" stroke-width="0.6"/>
<text x="500.40" y="378.10" font-size="6.6" text-anchor="end" fill="#4d4d4d">1.25</text>
<line x1="501.20" y1="419.20" x2="503.10" y2="419.20" stroke="#333333" stroke-width="0.6"/>
<text x="500.40" y="422.00" font-size="6.6" text-anchor="end" fill="#4d4d4d">1.20</text>
<line x1="501.20" y1="462.70" x2="503.10" y2="462.70" stroke="#333333" stroke-width="0.6"/>
<text x="500.40" y="465.50" font-size="6.6" text-anchor="end" fill="#4d4d4d">1.15</text>
<line x1="507.90" y1="466.60" x2="507.90" y2="468.50" stroke="#333333" stroke-width="0.8"/>
<text x="507.90" y="473.80" font-size="6.4" text-anchor="middle" fill="#4d4d4d">20</text>
<line x1="552.70" y1="466.60" x2="552.70" y2="468.50" stroke="#333333" stroke-width="0.8"/>
<text x="552.70" y="473.80" font-size="6.4" text-anchor="middle" fill="#4d4d4d">30</text>
<line x1="597.60" y1="466.60" x2="597.60" y2="468.50" stroke="#333333" stroke-width="0.8"/>
<text x="597.60" y="473.80" font-size="6.4" text-anchor="middle" fill="#4d4d4d">40</text>
<line x1="641.80" y1="466.60" x2="641.80" y2="468.50" stroke="#333333" stroke-width="0.8"/>
<text x="641.80" y="473.80" font-size="6.4" text-anchor="middle" fill="#4d4d4d">50</text>
<line x1="510.00" y1="317.20" x2="653.30" y2="459.40" stroke="#444" stroke-width="2.6"/>
<circle cx="509.90" cy="316.30" r="2.3" fill="#C49049"/>
<circle cx="546.60" cy="321.20" r="2.3" fill="#5DB160"/>
<circle cx="589.20" cy="423.20" r="2.3" fill="#F4B223"/>
<circle cx="587.20" cy="423.90" r="2.3" fill="#F69318"/>
<circle cx="635.10" cy="436.40" r="2.3" fill="#E2382B"/>
<circle cx="653.30" cy="440.80" r="2.3" fill="#6FC9DD"/>
<circle cx="641.10" cy="447.90" r="2.3" fill="#4B6152"/>
<rect x="512.50" y="310.50" width="7.00" height="8.00" fill="#fff" stroke="#1a1a1a" stroke-width="0.8" rx="1.2"/>
<text x="515.20" y="316.50" font-size="6.4" text-anchor="middle" fill="#111">6</text>
<rect x="538.50" y="322.50" width="7.00" height="8.00" fill="#fff" stroke="#1a1a1a" stroke-width="0.8" rx="1.2"/>
<text x="541.50" y="328.40" font-size="6.4" text-anchor="middle" fill="#111">3</text>
<rect x="590.50" y="414.50" width="7.00" height="8.00" fill="#fff" stroke="#1a1a1a" stroke-width="0.8" rx="1.2"/>
<text x="593.90" y="420.80" font-size="6.4" text-anchor="middle" fill="#111">4</text>
<rect x="579.50" y="424.50" width="7.00" height="8.00" fill="#fff" stroke="#1a1a1a" stroke-width="0.8" rx="1.2"/>
<text x="582.40" y="430.90" font-size="6.4" text-anchor="middle" fill="#111">5</text>
<rect x="636.50" y="428.50" width="7.00" height="8.00" fill="#fff" stroke="#1a1a1a" stroke-width="0.8" rx="1.2"/>
<text x="639.80" y="434.00" font-size="6.4" text-anchor="middle" fill="#111">1</text>
<rect x="652.50" y="431.50" width="7.00" height="8.00" fill="#fff" stroke="#1a1a1a" stroke-width="0.8" rx="1.2"/>
<text x="656.20" y="437.00" font-size="6.4" text-anchor="middle" fill="#111">7</text>
<rect x="642.50" y="439.50" width="7.00" height="8.00" fill="#fff" stroke="#1a1a1a" stroke-width="0.8" rx="1.2"/>
<text x="646.20" y="445.70" font-size="6.4" text-anchor="middle" fill="#111">2</text>
<text x="580.70" y="485.40" font-size="8.1" text-anchor="middle" fill="#000" font-weight="bold">Average Species-Level Diversity</text>
<text x="481.90" y="392.60" font-size="8.1" text-anchor="middle" fill="#000" font-weight="bold" transform="rotate(-90 481.90 392.60)">Average Strain-Level Diversity</text>
<text x="565.3" y="322.9" font-size="7.5" fill="#111"><tspan font-style="italic">R</tspan><tspan font-size="4.6" dy="-2.9">2</tspan><tspan dy="2.9">= -0.92, </tspan><tspan font-style="italic">p</tspan><tspan>-value = 0.0035</tspan></text>
<text x="2.50" y="502.70" font-size="16" text-anchor="start" fill="#000" font-weight="bold">e</text>
<text x="10.60" y="516.00" font-size="9.6" text-anchor="start" fill="#000" font-weight="bold">Significant differences among oxygen support types (top 10 taxa)</text>
<line x1="344.20" y1="508.40" x2="344.20" y2="519.60" stroke="#333" stroke-width="0.7"/>
<rect x="339.20" y="510.60" width="10.00" height="6.80" fill="#6FC9DD" stroke="#333" stroke-width="0.6"/>
<line x1="339.20" y1="514.00" x2="349.20" y2="514.00" stroke="#111" stroke-width="0.9"/>
<text x="354.70" y="516.30" font-size="6.5" text-anchor="start" fill="#111" stroke="#1a1a1a" stroke-width="0.12">Non–invasive</text>
<line x1="406.80" y1="508.40" x2="406.80" y2="519.60" stroke="#333" stroke-width="0.7"/>
<rect x="401.80" y="510.60" width="10.00" height="6.80" fill="#E2382B" stroke="#333" stroke-width="0.6"/>
<line x1="401.80" y1="514.00" x2="411.80" y2="514.00" stroke="#111" stroke-width="0.9"/>
<text x="417.20" y="516.30" font-size="6.5" text-anchor="start" fill="#111" stroke="#1a1a1a" stroke-width="0.12">Invasive</text>
<text x="5.90" y="562.70" font-size="7.8" text-anchor="middle" fill="#000" font-weight="bold" transform="rotate(-90 5.90 562.70)">Normalized</text>
<text x="16.00" y="562.00" font-size="7.8" text-anchor="middle" fill="#000" font-weight="bold" transform="rotate(-90 16.00 562.00)">counts (log<tspan font-size="5.3" dy="1.7">2</tspan><tspan dy="-1.7">)</tspan></text>
<line x1="28.90" y1="544.95" x2="78.00" y2="544.95" stroke="#f3f3f3" stroke-width="0.6"/>
<line x1="28.90" y1="552.10" x2="78.00" y2="552.10" stroke="#ebebeb" stroke-width="0.8"/>
<line x1="28.90" y1="559.25" x2="78.00" y2="559.25" stroke="#f3f3f3" stroke-width="0.6"/>
<line x1="28.90" y1="566.40" x2="78.00" y2="566.40" stroke="#ebebeb" stroke-width="0.8"/>
<line x1="28.90" y1="573.55" x2="78.00" y2="573.55" stroke="#f3f3f3" stroke-width="0.6"/>
<line x1="28.90" y1="580.70" x2="78.00" y2="580.70" stroke="#ebebeb" stroke-width="0.8"/>
<line x1="28.90" y1="587.85" x2="78.00" y2="587.85" stroke="#f3f3f3" stroke-width="0.6"/>
<line x1="42.10" y1="542.30" x2="42.10" y2="589.60" stroke="#ebebeb" stroke-width="0.8"/>
<line x1="64.85" y1="542.30" x2="64.85" y2="589.60" stroke="#ebebeb" stroke-width="0.8"/>
<line x1="39.09" y1="582.65" x2="62.64" y2="583.46" stroke="#cfcfcf" stroke-width="0.4"/>
<line x1="42.72" y1="584.54" x2="64.02" y2="586.63" stroke="#cfcfcf" stroke-width="0.4"/>
<line x1="44.97" y1="587.78" x2="63.17" y2="563.02" stroke="#cfcfcf" stroke-width="0.4"/>
<line x1="40.57" y1="580.04" x2="67.38" y2="564.89" stroke="#cfcfcf" stroke-width="0.4"/>
<line x1="43.21" y1="580.38" x2="63.83" y2="577.04" stroke="#cfcfcf" stroke-width="0.4"/>
<line x1="38.58" y1="583.79" x2="62.50" y2="563.45" stroke="#cfcfcf" stroke-width="0.4"/>
<line x1="40.61" y1="585.03" x2="65.53" y2="573.00" stroke="#cfcfcf" stroke-width="0.4"/>
<line x1="42.10" y1="575.30" x2="42.10" y2="582.70" stroke="#2b2b2b" stroke-width="1.3"/>
<rect x="34.10" y="582.70" width="15.85" height="5.10" fill="#6FC9DD" stroke="#1a1a1a" stroke-width="0.75"/>
<line x1="34.10" y1="585.10" x2="49.95" y2="585.10" stroke="#111" stroke-width="1.3"/>
<circle cx="45.34" cy="584.49" r="0.85" fill="#111"/>
<circle cx="42.92" cy="584.25" r="0.85" fill="#111"/>
<circle cx="44.62" cy="586.96" r="0.85" fill="#111"/>
<circle cx="37.90" cy="587.41" r="0.85" fill="#111"/>
<circle cx="38.27" cy="586.46" r="0.85" fill="#111"/>
<circle cx="43.95" cy="583.37" r="0.85" fill="#111"/>
<circle cx="46.23" cy="582.46" r="0.85" fill="#111"/>
<circle cx="43.14" cy="586.19" r="0.85" fill="#111"/>
<circle cx="45.84" cy="585.16" r="0.85" fill="#111"/>
<circle cx="43.91" cy="581.23" r="0.85" fill="#111"/>
<circle cx="43.72" cy="586.22" r="0.85" fill="#111"/>
<circle cx="39.73" cy="585.57" r="0.85" fill="#111"/>
<circle cx="36.85" cy="586.08" r="0.85" fill="#111"/>
<circle cx="37.89" cy="583.92" r="0.85" fill="#111"/>
<circle cx="40.10" cy="564.10" r="0.95" fill="#111"/>
<line x1="64.85" y1="559.80" x2="64.85" y2="575.90" stroke="#2b2b2b" stroke-width="1.3"/>
<rect x="56.85" y="575.90" width="15.85" height="12.40" fill="#E2382B" stroke="#1a1a1a" stroke-width="0.75"/>
<line x1="56.85" y1="579.30" x2="72.70" y2="579.30" stroke="#111" stroke-width="1.3"/>
<circle cx="60.77" cy="585.31" r="0.85" fill="#111"/>
<circle cx="68.94" cy="580.94" r="0.85" fill="#111"/>
<circle cx="65.39" cy="581.61" r="0.85" fill="#111"/>
<circle cx="68.85" cy="583.15" r="0.85" fill="#111"/>
<circle cx="63.30" cy="581.22" r="0.85" fill="#111"/>
<circle cx="61.01" cy="587.10" r="0.85" fill="#111"/>
<circle cx="61.92" cy="579.09" r="0.85" fill="#111"/>
<circle cx="62.24" cy="583.23" r="0.85" fill="#111"/>
<circle cx="63.41" cy="581.26" r="0.85" fill="#111"/>
<circle cx="66.95" cy="587.46" r="0.85" fill="#111"/>
<circle cx="66.79" cy="583.56" r="0.85" fill="#111"/>
<circle cx="67.93" cy="586.83" r="0.85" fill="#111"/>
<circle cx="63.67" cy="582.54" r="0.85" fill="#111"/>
<circle cx="66.33" cy="577.60" r="0.85" fill="#111"/>
<circle cx="61.65" cy="577.18" r="0.85" fill="#111"/>
<circle cx="59.93" cy="580.34" r="0.85" fill="#111"/>
<circle cx="60.47" cy="578.15" r="0.85" fill="#111"/>
<circle cx="68.97" cy="576.70" r="0.85" fill="#111"/>
<circle cx="62.12" cy="578.12" r="0.85" fill="#111"/>
<circle cx="60.70" cy="580.62" r="0.85" fill="#111"/>
<circle cx="64.48" cy="588.10" r="0.85" fill="#111"/>
<circle cx="60.47" cy="577.40" r="0.85" fill="#111"/>
<circle cx="68.47" cy="579.47" r="0.85" fill="#111"/>
<circle cx="69.81" cy="576.67" r="0.85" fill="#111"/>
<circle cx="65.32" cy="578.10" r="0.85" fill="#111"/>
<circle cx="70.11" cy="582.53" r="0.85" fill="#111"/>
<circle cx="61.10" cy="544.50" r="0.95" fill="#111"/>
<circle cx="69.50" cy="563.60" r="0.95" fill="#111"/>
<circle cx="69.80" cy="565.90" r="0.95" fill="#111"/>
<rect x="28.90" y="527.90" width="49.10" height="14.40" fill="#D9D9D9" stroke="#4d4d4d" stroke-width="0.6"/>
<text x="53.45" y="536.90" font-size="5.9" text-anchor="middle" fill="#1a1a1a" font-style="italic" stroke="#1a1a1a" stroke-width="0.12">Mycoplasma*</text>
<line x1="28.90" y1="542.30" x2="78.00" y2="542.30" stroke="#222" stroke-width="1.1"/>
<rect x="28.90" y="542.30" width="49.10" height="47.30" fill="none" stroke="#333" stroke-width="0.8"/>
<line x1="26.70" y1="552.10" x2="28.90" y2="552.10" stroke="#222" stroke-width="1.1"/>
<text x="26.50" y="554.30" font-size="6.6" text-anchor="end" fill="#4d4d4d">30</text>
<line x1="26.70" y1="566.40" x2="28.90" y2="566.40" stroke="#222" stroke-width="1.1"/>
<text x="26.50" y="568.60" font-size="6.6" text-anchor="end" fill="#4d4d4d">20</text>
<line x1="26.70" y1="581.10" x2="28.90" y2="581.10" stroke="#222" stroke-width="1.1"/>
<text x="26.50" y="583.30" font-size="6.6" text-anchor="end" fill="#4d4d4d">10</text>
<line x1="92.00" y1="543.95" x2="141.10" y2="543.95" stroke="#f3f3f3" stroke-width="0.6"/>
<line x1="92.00" y1="550.50" x2="141.10" y2="550.50" stroke="#ebebeb" stroke-width="0.8"/>
<line x1="92.00" y1="557.05" x2="141.10" y2="557.05" stroke="#f3f3f3" stroke-width="0.6"/>
<line x1="92.00" y1="563.60" x2="141.10" y2="563.60" stroke="#ebebeb" stroke-width="0.8"/>
<line x1="92.00" y1="570.15" x2="141.10" y2="570.15" stroke="#f3f3f3" stroke-width="0.6"/>
<line x1="92.00" y1="576.70" x2="141.10" y2="576.70" stroke="#ebebeb" stroke-width="0.8"/>
<line x1="92.00" y1="583.25" x2="141.10" y2="583.25" stroke="#f3f3f3" stroke-width="0.6"/>
<line x1="105.20" y1="542.30" x2="105.20" y2="589.60" stroke="#ebebeb" stroke-width="0.8"/>
<line x1="127.95" y1="542.30" x2="127.95" y2="589.60" stroke="#ebebeb" stroke-width="0.8"/>
<line x1="103.29" y1="587.13" x2="126.88" y2="575.51" stroke="#cfcfcf" stroke-width="0.4"/>
<line x1="105.46" y1="582.67" x2="130.18" y2="578.63" stroke="#cfcfcf" stroke-width="0.4"/>
<line x1="107.69" y1="583.71" x2="131.83" y2="556.07" stroke="#cfcfcf" stroke-width="0.4"/>
<line x1="107.75" y1="587.06" x2="129.87" y2="580.03" stroke="#cfcfcf" stroke-width="0.4"/>
<line x1="104.04" y1="583.05" x2="124.18" y2="568.17" stroke="#cfcfcf" stroke-width="0.4"/>
<line x1="103.27" y1="581.78" x2="129.49" y2="558.38" stroke="#cfcfcf" stroke-width="0.4"/>
<line x1="108.70" y1="587.72" x2="131.85" y2="565.28" stroke="#cfcfcf" stroke-width="0.4"/>
<line x1="105.20" y1="582.00" x2="105.20" y2="585.60" stroke="#2b2b2b" stroke-width="1.3"/>
<rect x="97.20" y="585.60" width="15.85" height="2.00" fill="#6FC9DD" stroke="#1a1a1a" stroke-width="0.75"/>
<line x1="97.20" y1="586.80" x2="113.05" y2="586.80" stroke="#111" stroke-width="1.3"/>
<circle cx="102.13" cy="584.04" r="0.85" fill="#111"/>
<circle cx="101.95" cy="586.34" r="0.85" fill="#111"/>
<circle cx="108.94" cy="587.18" r="0.85" fill="#111"/>
<circle cx="108.50" cy="586.88" r="0.85" fill="#111"/>
<circle cx="109.71" cy="586.89" r="0.85" fill="#111"/>
<circle cx="104.96" cy="586.20" r="0.85" fill="#111"/>
<circle cx="103.36" cy="587.05" r="0.85" fill="#111"/>
<circle cx="104.05" cy="587.44" r="0.85" fill="#111"/>
<circle cx="107.67" cy="587.24" r="0.85" fill="#111"/>
<circle cx="101.36" cy="586.25" r="0.85" fill="#111"/>
<circle cx="101.31" cy="586.52" r="0.85" fill="#111"/>
<circle cx="106.93" cy="587.49" r="0.85" fill="#111"/>
<circle cx="101.14" cy="586.76" r="0.85" fill="#111"/>
<circle cx="106.85" cy="587.27" r="0.85" fill="#111"/>
<circle cx="102.80" cy="576.70" r="0.95" fill="#111"/>
<circle cx="101.50" cy="580.20" r="0.95" fill="#111"/>
<circle cx="100.50" cy="582.20" r="0.95" fill="#111"/>
<circle cx="108.50" cy="573.80" r="0.95" fill="#111"/>
<circle cx="109.80" cy="576.20" r="0.95" fill="#111"/>
<circle cx="108.00" cy="578.60" r="0.95" fill="#111"/>
<line x1="127.95" y1="544.90" x2="127.95" y2="570.20" stroke="#2b2b2b" stroke-width="1.3"/>
<rect x="119.95" y="570.20" width="15.85" height="17.40" fill="#E2382B" stroke="#1a1a1a" stroke-width="0.75"/>
<line x1="119.95" y1="582.90" x2="135.80" y2="582.90" stroke="#111" stroke-width="1.3"/>
<circle cx="127.22" cy="586.20" r="0.85" fill="#111"/>
<circle cx="124.77" cy="580.18" r="0.85" fill="#111"/>
<circle cx="125.10" cy="575.56" r="0.85" fill="#111"/>
<circle cx="127.06" cy="575.01" r="0.85" fill="#111"/>
<circle cx="126.34" cy="585.81" r="0.85" fill="#111"/>
<circle cx="132.40" cy="580.38" r="0.85" fill="#111"/>
<circle cx="127.97" cy="585.93" r="0.85" fill="#111"/>
<circle cx="122.66" cy="579.39" r="0.85" fill="#111"/>
<circle cx="122.49" cy="573.74" r="0.85" fill="#111"/>
<circle cx="127.66" cy="552.26" r="0.85" fill="#111"/>
<circle cx="126.04" cy="579.94" r="0.85" fill="#111"/>
<circle cx="131.08" cy="579.92" r="0.85" fill="#111"/>
<circle cx="125.18" cy="580.00" r="0.85" fill="#111"/>
<circle cx="128.03" cy="583.52" r="0.85" fill="#111"/>
<circle cx="132.49" cy="583.32" r="0.85" fill="#111"/>
<circle cx="128.01" cy="580.87" r="0.85" fill="#111"/>
<circle cx="127.43" cy="582.20" r="0.85" fill="#111"/>
<circle cx="132.81" cy="578.64" r="0.85" fill="#111"/>
<circle cx="132.81" cy="585.25" r="0.85" fill="#111"/>
<circle cx="132.83" cy="579.99" r="0.85" fill="#111"/>
<circle cx="123.79" cy="550.76" r="0.85" fill="#111"/>
<circle cx="125.10" cy="571.90" r="0.85" fill="#111"/>
<circle cx="131.07" cy="581.81" r="0.85" fill="#111"/>
<circle cx="130.33" cy="551.49" r="0.85" fill="#111"/>
<circle cx="132.16" cy="573.07" r="0.85" fill="#111"/>
<circle cx="132.93" cy="554.28" r="0.85" fill="#111"/>
<circle cx="123.80" cy="544.40" r="0.95" fill="#111"/>
<circle cx="131.80" cy="544.40" r="0.95" fill="#111"/>
<circle cx="124.70" cy="550.80" r="0.95" fill="#111"/>
<circle cx="130.00" cy="549.00" r="0.95" fill="#111"/>
<circle cx="132.20" cy="558.30" r="0.95" fill="#111"/>
<circle cx="124.80" cy="566.40" r="0.95" fill="#111"/>
<rect x="92.00" y="527.90" width="49.10" height="14.40" fill="#D9D9D9" stroke="#4d4d4d" stroke-width="0.6"/>
<text x="116.55" y="536.90" font-size="5.9" text-anchor="middle" fill="#1a1a1a" font-style="italic" textLength="47" lengthAdjust="spacingAndGlyphs" stroke="#1a1a1a" stroke-width="0.12">Peptostreptococcus*</text>
<line x1="92.00" y1="542.30" x2="141.10" y2="542.30" stroke="#222" stroke-width="1.1"/>
<rect x="92.00" y="542.30" width="49.10" height="47.30" fill="none" stroke="#333" stroke-width="0.8"/>
<line x1="89.80" y1="550.50" x2="92.00" y2="550.50" stroke="#222" stroke-width="1.1"/>
<text x="89.60" y="552.70" font-size="6.6" text-anchor="end" fill="#4d4d4d">16</text>
<line x1="89.80" y1="563.60" x2="92.00" y2="563.60" stroke="#222" stroke-width="1.1"/>
<text x="89.60" y="565.80" font-size="6.6" text-anchor="end" fill="#4d4d4d">12</text>
<line x1="89.80" y1="576.60" x2="92.00" y2="576.60" stroke="#222" stroke-width="1.1"/>
<text x="89.60" y="578.80" font-size="6.6" text-anchor="end" fill="#4d4d4d">8</text>
<line x1="160.10" y1="544.30" x2="209.20" y2="544.30" stroke="#ebebeb" stroke-width="0.8"/>
<line x1="160.10" y1="549.65" x2="209.20" y2="549.65" stroke="#f3f3f3" stroke-width="0.6"/>
<line x1="160.10" y1="555.00" x2="209.20" y2="555.00" stroke="#ebebeb" stroke-width="0.8"/>
<line x1="160.10" y1="560.35" x2="209.20" y2="560.35" stroke="#f3f3f3" stroke-width="0.6"/>
<line x1="160.10" y1="565.70" x2="209.20" y2="565.70" stroke="#ebebeb" stroke-width="0.8"/>
<line x1="160.10" y1="571.05" x2="209.20" y2="571.05" stroke="#f3f3f3" stroke-width="0.6"/>
<line x1="160.10" y1="576.40" x2="209.20" y2="576.40" stroke="#ebebeb" stroke-width="0.8"/>
<line x1="160.10" y1="581.75" x2="209.20" y2="581.75" stroke="#f3f3f3" stroke-width="0.6"/>
<line x1="160.10" y1="587.10" x2="209.20" y2="587.10" stroke="#ebebeb" stroke-width="0.8"/>
<line x1="173.30" y1="542.30" x2="173.30" y2="589.60" stroke="#ebebeb" stroke-width="0.8"/>
<line x1="196.05" y1="542.30" x2="196.05" y2="589.60" stroke="#ebebeb" stroke-width="0.8"/>
<line x1="177.22" y1="579.76" x2="198.71" y2="566.72" stroke="#cfcfcf" stroke-width="0.4"/>
<line x1="173.42" y1="576.51" x2="194.76" y2="564.41" stroke="#cfcfcf" stroke-width="0.4"/>
<line x1="175.08" y1="576.98" x2="192.21" y2="559.72" stroke="#cfcfcf" stroke-width="0.4"/>
<line x1="169.44" y1="581.89" x2="194.70" y2="564.78" stroke="#cfcfcf" stroke-width="0.4"/>
<line x1="169.81" y1="582.85" x2="199.93" y2="567.76" stroke="#cfcfcf" stroke-width="0.4"/>
<line x1="170.14" y1="585.10" x2="194.17" y2="586.83" stroke="#cfcfcf" stroke-width="0.4"/>
<line x1="171.46" y1="574.84" x2="193.09" y2="578.83" stroke="#cfcfcf" stroke-width="0.4"/>
<line x1="173.30" y1="570.40" x2="173.30" y2="578.30" stroke="#2b2b2b" stroke-width="1.3"/>
<rect x="165.30" y="578.30" width="15.85" height="9.10" fill="#6FC9DD" stroke="#1a1a1a" stroke-width="0.75"/>
<line x1="165.30" y1="580.20" x2="181.15" y2="580.20" stroke="#111" stroke-width="1.3"/>
<circle cx="176.81" cy="586.36" r="0.85" fill="#111"/>
<circle cx="177.91" cy="580.04" r="0.85" fill="#111"/>
<circle cx="168.78" cy="584.61" r="0.85" fill="#111"/>
<circle cx="172.48" cy="584.51" r="0.85" fill="#111"/>
<circle cx="174.78" cy="586.59" r="0.85" fill="#111"/>
<circle cx="177.22" cy="571.82" r="0.85" fill="#111"/>
<circle cx="172.79" cy="585.96" r="0.85" fill="#111"/>
<circle cx="177.99" cy="583.39" r="0.85" fill="#111"/>
<circle cx="173.60" cy="579.87" r="0.85" fill="#111"/>
<circle cx="169.58" cy="579.71" r="0.85" fill="#111"/>
<circle cx="171.23" cy="580.47" r="0.85" fill="#111"/>
<circle cx="170.99" cy="585.10" r="0.85" fill="#111"/>
<circle cx="171.62" cy="580.28" r="0.85" fill="#111"/>
<circle cx="167.97" cy="580.88" r="0.85" fill="#111"/>
<circle cx="173.40" cy="563.30" r="0.95" fill="#111"/>
<circle cx="168.80" cy="573.60" r="0.95" fill="#111"/>
<circle cx="175.60" cy="571.80" r="0.95" fill="#111"/>
<circle cx="178.00" cy="574.80" r="0.95" fill="#111"/>
<circle cx="171.00" cy="576.60" r="0.95" fill="#111"/>
<line x1="196.05" y1="544.50" x2="196.05" y2="570.40" stroke="#2b2b2b" stroke-width="1.3"/>
<rect x="188.05" y="570.40" width="15.85" height="17.00" fill="#E2382B" stroke="#1a1a1a" stroke-width="0.75"/>
<line x1="188.05" y1="580.70" x2="203.90" y2="580.70" stroke="#111" stroke-width="1.3"/>
<circle cx="192.63" cy="579.83" r="0.85" fill="#111"/>
<circle cx="191.72" cy="586.04" r="0.85" fill="#111"/>
<circle cx="196.00" cy="563.04" r="0.85" fill="#111"/>
<circle cx="196.12" cy="561.36" r="0.85" fill="#111"/>
<circle cx="194.32" cy="586.82" r="0.85" fill="#111"/>
<circle cx="197.55" cy="574.82" r="0.85" fill="#111"/>
<circle cx="191.15" cy="576.53" r="0.85" fill="#111"/>
<circle cx="198.70" cy="572.05" r="0.85" fill="#111"/>
<circle cx="191.48" cy="573.54" r="0.85" fill="#111"/>
<circle cx="197.93" cy="581.85" r="0.85" fill="#111"/>
<circle cx="193.77" cy="574.82" r="0.85" fill="#111"/>
<circle cx="195.45" cy="573.45" r="0.85" fill="#111"/>
<circle cx="201.25" cy="586.48" r="0.85" fill="#111"/>
<circle cx="201.17" cy="574.86" r="0.85" fill="#111"/>
<circle cx="190.56" cy="576.68" r="0.85" fill="#111"/>
<circle cx="196.08" cy="578.59" r="0.85" fill="#111"/>
<circle cx="190.60" cy="579.08" r="0.85" fill="#111"/>
<circle cx="194.94" cy="572.35" r="0.85" fill="#111"/>
<circle cx="193.90" cy="571.26" r="0.85" fill="#111"/>
<circle cx="196.37" cy="580.39" r="0.85" fill="#111"/>
<circle cx="198.43" cy="572.71" r="0.85" fill="#111"/>
<circle cx="194.14" cy="561.21" r="0.85" fill="#111"/>
<circle cx="198.52" cy="550.91" r="0.85" fill="#111"/>
<circle cx="199.74" cy="571.61" r="0.85" fill="#111"/>
<circle cx="198.62" cy="571.41" r="0.85" fill="#111"/>
<circle cx="196.31" cy="550.48" r="0.85" fill="#111"/>
<circle cx="196.00" cy="545.00" r="0.95" fill="#111"/>
<circle cx="199.50" cy="545.00" r="0.95" fill="#111"/>
<circle cx="191.80" cy="551.30" r="0.95" fill="#111"/>
<circle cx="192.00" cy="556.50" r="0.95" fill="#111"/>
<circle cx="199.30" cy="565.00" r="0.95" fill="#111"/>
<circle cx="193.00" cy="566.40" r="0.95" fill="#111"/>
<rect x="160.10" y="527.90" width="49.10" height="14.40" fill="#D9D9D9" stroke="#4d4d4d" stroke-width="0.6"/>
<text x="184.65" y="536.90" font-size="5.9" text-anchor="middle" fill="#1a1a1a" font-style="italic" stroke="#1a1a1a" stroke-width="0.12">Prevotella*</text>
<line x1="160.10" y1="542.30" x2="209.20" y2="542.30" stroke="#222" stroke-width="1.1"/>
<rect x="160.10" y="542.30" width="49.10" height="47.30" fill="none" stroke="#333" stroke-width="0.8"/>
<line x1="157.90" y1="544.30" x2="160.10" y2="544.30" stroke="#222" stroke-width="1.1"/>
<text x="157.70" y="546.50" font-size="6.6" text-anchor="end" fill="#4d4d4d">25</text>
<line x1="157.90" y1="555.00" x2="160.10" y2="555.00" stroke="#222" stroke-width="1.1"/>
<text x="157.70" y="557.20" font-size="6.6" text-anchor="end" fill="#4d4d4d">20</text>
<line x1="157.90" y1="565.80" x2="160.10" y2="565.80" stroke="#222" stroke-width="1.1"/>
<text x="157.70" y="568.00" font-size="6.6" text-anchor="end" fill="#4d4d4d">15</text>
<line x1="157.90" y1="576.50" x2="160.10" y2="576.50" stroke="#222" stroke-width="1.1"/>
<text x="157.70" y="578.70" font-size="6.6" text-anchor="end" fill="#4d4d4d">10</text>
<line x1="157.90" y1="588.00" x2="160.10" y2="588.00" stroke="#222" stroke-width="1.1"/>
<text x="157.70" y="590.20" font-size="6.6" text-anchor="end" fill="#4d4d4d">5</text>
<line x1="223.20" y1="546.20" x2="272.30" y2="546.20" stroke="#ebebeb" stroke-width="0.8"/>
<line x1="223.20" y1="553.45" x2="272.30" y2="553.45" stroke="#f3f3f3" stroke-width="0.6"/>
<line x1="223.20" y1="560.70" x2="272.30" y2="560.70" stroke="#ebebeb" stroke-width="0.8"/>
<line x1="223.20" y1="567.95" x2="272.30" y2="567.95" stroke="#f3f3f3" stroke-width="0.6"/>
<line x1="223.20" y1="575.20" x2="272.30" y2="575.20" stroke="#ebebeb" stroke-width="0.8"/>
<line x1="223.20" y1="582.45" x2="272.30" y2="582.45" stroke="#f3f3f3" stroke-width="0.6"/>
<line x1="236.40" y1="542.30" x2="236.40" y2="589.60" stroke="#ebebeb" stroke-width="0.8"/>
<line x1="259.15" y1="542.30" x2="259.15" y2="589.60" stroke="#ebebeb" stroke-width="0.8"/>
<line x1="238.84" y1="582.85" x2="261.76" y2="581.15" stroke="#cfcfcf" stroke-width="0.4"/>
<line x1="237.86" y1="583.67" x2="260.70" y2="583.55" stroke="#cfcfcf" stroke-width="0.4"/>
<line x1="233.46" y1="579.99" x2="258.04" y2="547.79" stroke="#cfcfcf" stroke-width="0.4"/>
<line x1="236.87" y1="578.69" x2="260.17" y2="581.19" stroke="#cfcfcf" stroke-width="0.4"/>
<line x1="236.31" y1="584.11" x2="255.18" y2="574.75" stroke="#cfcfcf" stroke-width="0.4"/>
<line x1="236.42" y1="585.90" x2="259.43" y2="577.55" stroke="#cfcfcf" stroke-width="0.4"/>
<line x1="238.29" y1="584.46" x2="257.17" y2="549.24" stroke="#cfcfcf" stroke-width="0.4"/>
<line x1="236.40" y1="572.60" x2="236.40" y2="581.60" stroke="#2b2b2b" stroke-width="1.3"/>
<rect x="228.40" y="581.60" width="15.85" height="5.80" fill="#6FC9DD" stroke="#1a1a1a" stroke-width="0.75"/>
<line x1="228.40" y1="583.80" x2="244.25" y2="583.80" stroke="#111" stroke-width="1.3"/>
<circle cx="238.92" cy="583.43" r="0.85" fill="#111"/>
<circle cx="241.63" cy="585.80" r="0.85" fill="#111"/>
<circle cx="236.17" cy="584.01" r="0.85" fill="#111"/>
<circle cx="237.69" cy="585.93" r="0.85" fill="#111"/>
<circle cx="232.52" cy="582.49" r="0.85" fill="#111"/>
<circle cx="234.25" cy="585.82" r="0.85" fill="#111"/>
<circle cx="231.57" cy="582.16" r="0.85" fill="#111"/>
<circle cx="238.51" cy="585.46" r="0.85" fill="#111"/>
<circle cx="236.58" cy="583.55" r="0.85" fill="#111"/>
<circle cx="232.20" cy="584.43" r="0.85" fill="#111"/>
<circle cx="241.66" cy="575.55" r="0.85" fill="#111"/>
<circle cx="235.95" cy="572.86" r="0.85" fill="#111"/>
<circle cx="235.84" cy="586.93" r="0.85" fill="#111"/>
<circle cx="241.30" cy="583.15" r="0.85" fill="#111"/>
<circle cx="236.00" cy="562.30" r="0.95" fill="#111"/>
<circle cx="240.20" cy="561.20" r="0.95" fill="#111"/>
<circle cx="235.60" cy="569.60" r="0.95" fill="#111"/>
<circle cx="240.20" cy="579.00" r="0.95" fill="#111"/>
<line x1="259.15" y1="544.50" x2="259.15" y2="569.10" stroke="#2b2b2b" stroke-width="1.3"/>
<rect x="251.15" y="569.10" width="15.85" height="18.30" fill="#E2382B" stroke="#1a1a1a" stroke-width="0.75"/>
<line x1="251.15" y1="581.60" x2="267.00" y2="581.60" stroke="#111" stroke-width="1.3"/>
<circle cx="255.21" cy="579.78" r="0.85" fill="#111"/>
<circle cx="255.11" cy="586.27" r="0.85" fill="#111"/>
<circle cx="263.41" cy="566.33" r="0.85" fill="#111"/>
<circle cx="263.52" cy="573.65" r="0.85" fill="#111"/>
<circle cx="253.69" cy="570.03" r="0.85" fill="#111"/>
<circle cx="256.97" cy="577.49" r="0.85" fill="#111"/>
<circle cx="257.13" cy="575.62" r="0.85" fill="#111"/>
<circle cx="261.91" cy="544.57" r="0.85" fill="#111"/>
<circle cx="263.84" cy="549.65" r="0.85" fill="#111"/>
<circle cx="256.84" cy="585.38" r="0.85" fill="#111"/>
<circle cx="264.64" cy="576.48" r="0.85" fill="#111"/>
<circle cx="258.36" cy="575.91" r="0.85" fill="#111"/>
<circle cx="254.77" cy="570.44" r="0.85" fill="#111"/>
<circle cx="263.94" cy="556.75" r="0.85" fill="#111"/>
<circle cx="259.27" cy="574.25" r="0.85" fill="#111"/>
<circle cx="264.17" cy="576.13" r="0.85" fill="#111"/>
<circle cx="260.59" cy="579.33" r="0.85" fill="#111"/>
<circle cx="259.69" cy="584.86" r="0.85" fill="#111"/>
<circle cx="261.71" cy="570.47" r="0.85" fill="#111"/>
<circle cx="260.74" cy="582.77" r="0.85" fill="#111"/>
<circle cx="263.84" cy="570.46" r="0.85" fill="#111"/>
<circle cx="257.43" cy="577.86" r="0.85" fill="#111"/>
<circle cx="264.39" cy="582.53" r="0.85" fill="#111"/>
<circle cx="256.96" cy="581.08" r="0.85" fill="#111"/>
<circle cx="255.49" cy="576.50" r="0.85" fill="#111"/>
<circle cx="263.62" cy="573.24" r="0.85" fill="#111"/>
<circle cx="256.00" cy="544.60" r="0.95" fill="#111"/>
<circle cx="256.20" cy="549.60" r="0.95" fill="#111"/>
<circle cx="260.30" cy="550.80" r="0.95" fill="#111"/>
<circle cx="259.80" cy="558.90" r="0.95" fill="#111"/>
<circle cx="254.70" cy="562.40" r="0.95" fill="#111"/>
<circle cx="262.00" cy="563.00" r="0.95" fill="#111"/>
<circle cx="259.50" cy="566.40" r="0.95" fill="#111"/>
<rect x="223.20" y="527.90" width="49.10" height="14.40" fill="#D9D9D9" stroke="#4d4d4d" stroke-width="0.6"/>
<text x="247.75" y="536.90" font-size="5.9" text-anchor="middle" fill="#1a1a1a" font-style="italic" stroke="#1a1a1a" stroke-width="0.12">Atopobium*</text>
<line x1="223.20" y1="542.30" x2="272.30" y2="542.30" stroke="#222" stroke-width="1.1"/>
<rect x="223.20" y="542.30" width="49.10" height="47.30" fill="none" stroke="#333" stroke-width="0.8"/>
<line x1="221.00" y1="546.20" x2="223.20" y2="546.20" stroke="#222" stroke-width="1.1"/>
<text x="220.80" y="548.40" font-size="6.6" text-anchor="end" fill="#4d4d4d">16</text>
<line x1="221.00" y1="560.70" x2="223.20" y2="560.70" stroke="#222" stroke-width="1.1"/>
<text x="220.80" y="562.90" font-size="6.6" text-anchor="end" fill="#4d4d4d">12</text>
<line x1="221.00" y1="575.10" x2="223.20" y2="575.10" stroke="#222" stroke-width="1.1"/>
<text x="220.80" y="577.30" font-size="6.6" text-anchor="end" fill="#4d4d4d">8</text>
<line x1="291.20" y1="544.25" x2="340.30" y2="544.25" stroke="#f3f3f3" stroke-width="0.6"/>
<line x1="291.20" y1="550.80" x2="340.30" y2="550.80" stroke="#ebebeb" stroke-width="0.8"/>
<line x1="291.20" y1="557.35" x2="340.30" y2="557.35" stroke="#f3f3f3" stroke-width="0.6"/>
<line x1="291.20" y1="563.90" x2="340.30" y2="563.90" stroke="#ebebeb" stroke-width="0.8"/>
<line x1="291.20" y1="570.45" x2="340.30" y2="570.45" stroke="#f3f3f3" stroke-width="0.6"/>
<line x1="291.20" y1="577.00" x2="340.30" y2="577.00" stroke="#ebebeb" stroke-width="0.8"/>
<line x1="291.20" y1="583.55" x2="340.30" y2="583.55" stroke="#f3f3f3" stroke-width="0.6"/>
<line x1="304.40" y1="542.30" x2="304.40" y2="589.60" stroke="#ebebeb" stroke-width="0.8"/>
<line x1="327.15" y1="542.30" x2="327.15" y2="589.60" stroke="#ebebeb" stroke-width="0.8"/>
<line x1="307.65" y1="582.07" x2="331.12" y2="555.94" stroke="#cfcfcf" stroke-width="0.4"/>
<line x1="301.94" y1="581.51" x2="323.88" y2="552.64" stroke="#cfcfcf" stroke-width="0.4"/>
<line x1="302.31" y1="580.24" x2="325.22" y2="550.64" stroke="#cfcfcf" stroke-width="0.4"/>
<line x1="306.40" y1="582.92" x2="326.45" y2="583.37" stroke="#cfcfcf" stroke-width="0.4"/>
<line x1="303.41" y1="581.08" x2="325.86" y2="568.44" stroke="#cfcfcf" stroke-width="0.4"/>
<line x1="308.14" y1="576.93" x2="324.16" y2="558.31" stroke="#cfcfcf" stroke-width="0.4"/>
<line x1="307.30" y1="582.14" x2="324.88" y2="572.78" stroke="#cfcfcf" stroke-width="0.4"/>
<line x1="304.40" y1="571.30" x2="304.40" y2="580.20" stroke="#2b2b2b" stroke-width="1.3"/>
<rect x="296.40" y="580.20" width="15.85" height="7.20" fill="#6FC9DD" stroke="#1a1a1a" stroke-width="0.75"/>
<line x1="296.40" y1="587.00" x2="312.25" y2="587.00" stroke="#111" stroke-width="1.3"/>
<circle cx="303.30" cy="582.29" r="0.85" fill="#111"/>
<circle cx="308.24" cy="586.81" r="0.85" fill="#111"/>
<circle cx="299.25" cy="571.65" r="0.85" fill="#111"/>
<circle cx="304.11" cy="586.43" r="0.85" fill="#111"/>
<circle cx="303.21" cy="580.70" r="0.85" fill="#111"/>
<circle cx="308.31" cy="584.59" r="0.85" fill="#111"/>
<circle cx="300.10" cy="575.30" r="0.85" fill="#111"/>
<circle cx="306.40" cy="584.04" r="0.85" fill="#111"/>
<circle cx="306.02" cy="582.92" r="0.85" fill="#111"/>
<circle cx="304.97" cy="578.66" r="0.85" fill="#111"/>
<circle cx="301.46" cy="585.71" r="0.85" fill="#111"/>
<circle cx="302.24" cy="581.69" r="0.85" fill="#111"/>
<circle cx="305.90" cy="582.31" r="0.85" fill="#111"/>
<circle cx="299.67" cy="581.42" r="0.85" fill="#111"/>
<circle cx="307.50" cy="566.00" r="0.95" fill="#111"/>
<circle cx="308.00" cy="566.80" r="0.95" fill="#111"/>
<circle cx="302.50" cy="571.20" r="0.95" fill="#111"/>
<circle cx="301.20" cy="576.20" r="0.95" fill="#111"/>
<circle cx="302.00" cy="578.60" r="0.95" fill="#111"/>
<circle cx="308.40" cy="578.60" r="0.95" fill="#111"/>
<line x1="327.15" y1="544.90" x2="327.15" y2="567.10" stroke="#2b2b2b" stroke-width="1.3"/>
<rect x="319.15" y="567.10" width="15.85" height="20.30" fill="#E2382B" stroke="#1a1a1a" stroke-width="0.75"/>
<line x1="319.15" y1="575.80" x2="335.00" y2="575.80" stroke="#111" stroke-width="1.3"/>
<circle cx="325.92" cy="578.97" r="0.85" fill="#111"/>
<circle cx="321.77" cy="579.32" r="0.85" fill="#111"/>
<circle cx="332.20" cy="576.58" r="0.85" fill="#111"/>
<circle cx="326.88" cy="584.83" r="0.85" fill="#111"/>
<circle cx="332.22" cy="572.42" r="0.85" fill="#111"/>
<circle cx="321.89" cy="573.59" r="0.85" fill="#111"/>
<circle cx="326.27" cy="580.75" r="0.85" fill="#111"/>
<circle cx="331.83" cy="580.61" r="0.85" fill="#111"/>
<circle cx="325.37" cy="568.26" r="0.85" fill="#111"/>
<circle cx="323.83" cy="580.91" r="0.85" fill="#111"/>
<circle cx="327.20" cy="576.31" r="0.85" fill="#111"/>
<circle cx="325.08" cy="586.51" r="0.85" fill="#111"/>
<circle cx="324.09" cy="554.71" r="0.85" fill="#111"/>
<circle cx="332.12" cy="557.43" r="0.85" fill="#111"/>
<circle cx="324.11" cy="571.25" r="0.85" fill="#111"/>
<circle cx="332.09" cy="580.57" r="0.85" fill="#111"/>
<circle cx="323.99" cy="575.27" r="0.85" fill="#111"/>
<circle cx="322.22" cy="550.93" r="0.85" fill="#111"/>
<circle cx="331.53" cy="575.27" r="0.85" fill="#111"/>
<circle cx="332.62" cy="576.04" r="0.85" fill="#111"/>
<circle cx="323.69" cy="558.89" r="0.85" fill="#111"/>
<circle cx="322.00" cy="576.62" r="0.85" fill="#111"/>
<circle cx="325.76" cy="574.98" r="0.85" fill="#111"/>
<circle cx="321.68" cy="570.90" r="0.85" fill="#111"/>
<circle cx="332.16" cy="574.45" r="0.85" fill="#111"/>
<circle cx="323.93" cy="586.40" r="0.85" fill="#111"/>
<circle cx="330.40" cy="544.50" r="0.95" fill="#111"/>
<circle cx="326.20" cy="552.00" r="0.95" fill="#111"/>
<circle cx="330.20" cy="552.00" r="0.95" fill="#111"/>
<circle cx="322.80" cy="557.00" r="0.95" fill="#111"/>
<circle cx="325.30" cy="559.30" r="0.95" fill="#111"/>
<circle cx="330.90" cy="559.30" r="0.95" fill="#111"/>
<circle cx="327.80" cy="561.60" r="0.95" fill="#111"/>
<circle cx="322.70" cy="567.10" r="0.95" fill="#111"/>
<circle cx="328.00" cy="571.60" r="0.95" fill="#111"/>
<circle cx="331.80" cy="570.60" r="0.95" fill="#111"/>
<rect x="291.20" y="527.90" width="49.10" height="14.40" fill="#D9D9D9" stroke="#4d4d4d" stroke-width="0.6"/>
<text x="315.75" y="536.90" font-size="5.9" text-anchor="middle" fill="#1a1a1a" font-style="italic" stroke="#1a1a1a" stroke-width="0.12">Enterococcus*</text>
<line x1="291.20" y1="542.30" x2="340.30" y2="542.30" stroke="#222" stroke-width="1.1"/>
<rect x="291.20" y="542.30" width="49.10" height="47.30" fill="none" stroke="#333" stroke-width="0.8"/>
<line x1="289.00" y1="550.80" x2="291.20" y2="550.80" stroke="#222" stroke-width="1.1"/>
<text x="288.80" y="553.00" font-size="6.6" text-anchor="end" fill="#4d4d4d">16</text>
<line x1="289.00" y1="563.90" x2="291.20" y2="563.90" stroke="#222" stroke-width="1.1"/>
<text x="288.80" y="566.10" font-size="6.6" text-anchor="end" fill="#4d4d4d">12</text>
<line x1="289.00" y1="577.20" x2="291.20" y2="577.20" stroke="#222" stroke-width="1.1"/>
<text x="288.80" y="579.40" font-size="6.6" text-anchor="end" fill="#4d4d4d">8</text>
<line x1="359.20" y1="545.00" x2="408.30" y2="545.00" stroke="#ebebeb" stroke-width="0.8"/>
<line x1="359.20" y1="550.25" x2="408.30" y2="550.25" stroke="#f3f3f3" stroke-width="0.6"/>
<line x1="359.20" y1="555.50" x2="408.30" y2="555.50" stroke="#ebebeb" stroke-width="0.8"/>
<line x1="359.20" y1="560.75" x2="408.30" y2="560.75" stroke="#f3f3f3" stroke-width="0.6"/>
<line x1="359.20" y1="566.00" x2="408.30" y2="566.00" stroke="#ebebeb" stroke-width="0.8"/>
<line x1="359.20" y1="571.25" x2="408.30" y2="571.25" stroke="#f3f3f3" stroke-width="0.6"/>
<line x1="359.20" y1="576.50" x2="408.30" y2="576.50" stroke="#ebebeb" stroke-width="0.8"/>
<line x1="359.20" y1="581.75" x2="408.30" y2="581.75" stroke="#f3f3f3" stroke-width="0.6"/>
<line x1="359.20" y1="587.00" x2="408.30" y2="587.00" stroke="#ebebeb" stroke-width="0.8"/>
<line x1="372.40" y1="542.30" x2="372.40" y2="589.60" stroke="#ebebeb" stroke-width="0.8"/>
<line x1="395.15" y1="542.30" x2="395.15" y2="589.60" stroke="#ebebeb" stroke-width="0.8"/>
<line x1="374.98" y1="585.04" x2="394.61" y2="580.51" stroke="#cfcfcf" stroke-width="0.4"/>
<line x1="371.38" y1="583.63" x2="398.51" y2="565.89" stroke="#cfcfcf" stroke-width="0.4"/>
<line x1="375.58" y1="584.29" x2="391.39" y2="561.30" stroke="#cfcfcf" stroke-width="0.4"/>
<line x1="374.53" y1="585.29" x2="391.48" y2="580.10" stroke="#cfcfcf" stroke-width="0.4"/>
<line x1="375.76" y1="583.56" x2="393.21" y2="548.63" stroke="#cfcfcf" stroke-width="0.4"/>
<line x1="371.11" y1="586.84" x2="393.33" y2="583.74" stroke="#cfcfcf" stroke-width="0.4"/>
<line x1="370.50" y1="587.81" x2="396.88" y2="571.91" stroke="#cfcfcf" stroke-width="0.4"/>
<rect x="364.40" y="586.80" width="15.85" height="1.60" fill="#222" stroke="none" stroke-width="0.6"/>
<circle cx="369.93" cy="587.59" r="0.85" fill="#111"/>
<circle cx="375.21" cy="587.40" r="0.85" fill="#111"/>
<circle cx="373.87" cy="587.95" r="0.85" fill="#111"/>
<circle cx="367.17" cy="587.97" r="0.85" fill="#111"/>
<circle cx="372.13" cy="587.54" r="0.85" fill="#111"/>
<circle cx="377.39" cy="587.97" r="0.85" fill="#111"/>
<circle cx="369.66" cy="587.63" r="0.85" fill="#111"/>
<circle cx="372.33" cy="587.66" r="0.85" fill="#111"/>
<circle cx="368.91" cy="587.96" r="0.85" fill="#111"/>
<circle cx="375.02" cy="587.88" r="0.85" fill="#111"/>
<circle cx="375.40" cy="587.89" r="0.85" fill="#111"/>
<circle cx="370.51" cy="587.76" r="0.85" fill="#111"/>
<circle cx="370.88" cy="587.59" r="0.85" fill="#111"/>
<circle cx="367.77" cy="587.87" r="0.85" fill="#111"/>
<circle cx="373.00" cy="568.50" r="0.95" fill="#111"/>
<circle cx="369.00" cy="574.00" r="0.95" fill="#111"/>
<circle cx="371.60" cy="575.20" r="0.95" fill="#111"/>
<circle cx="374.00" cy="572.60" r="0.95" fill="#111"/>
<circle cx="375.20" cy="575.60" r="0.95" fill="#111"/>
<circle cx="368.60" cy="578.40" r="0.95" fill="#111"/>
<circle cx="376.00" cy="582.40" r="0.95" fill="#111"/>
<line x1="395.15" y1="544.00" x2="395.15" y2="569.20" stroke="#2b2b2b" stroke-width="1.3"/>
<rect x="387.15" y="569.20" width="15.85" height="18.40" fill="#E2382B" stroke="#1a1a1a" stroke-width="0.75"/>
<line x1="387.15" y1="586.50" x2="403.00" y2="586.50" stroke="#111" stroke-width="1.3"/>
<circle cx="392.37" cy="582.95" r="0.85" fill="#111"/>
<circle cx="395.73" cy="570.30" r="0.85" fill="#111"/>
<circle cx="399.37" cy="586.95" r="0.85" fill="#111"/>
<circle cx="390.57" cy="555.55" r="0.85" fill="#111"/>
<circle cx="397.46" cy="578.47" r="0.85" fill="#111"/>
<circle cx="394.24" cy="573.82" r="0.85" fill="#111"/>
<circle cx="397.88" cy="581.56" r="0.85" fill="#111"/>
<circle cx="390.98" cy="572.97" r="0.85" fill="#111"/>
<circle cx="395.89" cy="556.81" r="0.85" fill="#111"/>
<circle cx="391.84" cy="582.69" r="0.85" fill="#111"/>
<circle cx="391.34" cy="574.02" r="0.85" fill="#111"/>
<circle cx="393.24" cy="569.21" r="0.85" fill="#111"/>
<circle cx="395.23" cy="587.17" r="0.85" fill="#111"/>
<circle cx="396.84" cy="583.93" r="0.85" fill="#111"/>
<circle cx="394.87" cy="548.46" r="0.85" fill="#111"/>
<circle cx="399.71" cy="580.65" r="0.85" fill="#111"/>
<circle cx="390.96" cy="574.87" r="0.85" fill="#111"/>
<circle cx="396.07" cy="586.82" r="0.85" fill="#111"/>
<circle cx="399.18" cy="560.23" r="0.85" fill="#111"/>
<circle cx="398.21" cy="574.28" r="0.85" fill="#111"/>
<circle cx="396.21" cy="548.61" r="0.85" fill="#111"/>
<circle cx="393.71" cy="573.53" r="0.85" fill="#111"/>
<circle cx="392.45" cy="573.29" r="0.85" fill="#111"/>
<circle cx="391.89" cy="581.17" r="0.85" fill="#111"/>
<circle cx="397.11" cy="575.46" r="0.85" fill="#111"/>
<circle cx="391.89" cy="575.19" r="0.85" fill="#111"/>
<circle cx="391.50" cy="548.30" r="0.95" fill="#111"/>
<circle cx="395.50" cy="551.30" r="0.95" fill="#111"/>
<circle cx="397.30" cy="556.80" r="0.95" fill="#111"/>
<circle cx="398.60" cy="557.80" r="0.95" fill="#111"/>
<circle cx="397.80" cy="561.30" r="0.95" fill="#111"/>
<circle cx="391.90" cy="563.20" r="0.95" fill="#111"/>
<circle cx="398.00" cy="565.30" r="0.95" fill="#111"/>
<rect x="359.20" y="527.90" width="49.10" height="14.40" fill="#D9D9D9" stroke="#4d4d4d" stroke-width="0.6"/>
<text x="383.75" y="536.90" font-size="5.9" text-anchor="middle" fill="#1a1a1a" font-style="italic" stroke="#1a1a1a" stroke-width="0.12">Parvimonas*</text>
<line x1="359.20" y1="542.30" x2="408.30" y2="542.30" stroke="#222" stroke-width="1.1"/>
<rect x="359.20" y="542.30" width="49.10" height="47.30" fill="none" stroke="#333" stroke-width="0.8"/>
<line x1="357.00" y1="545.00" x2="359.20" y2="545.00" stroke="#222" stroke-width="1.1"/>
<text x="356.80" y="547.20" font-size="6.6" text-anchor="end" fill="#4d4d4d">15.0</text>
<line x1="357.00" y1="555.50" x2="359.20" y2="555.50" stroke="#222" stroke-width="1.1"/>
<text x="356.80" y="557.70" font-size="6.6" text-anchor="end" fill="#4d4d4d">12.5</text>
<line x1="357.00" y1="565.80" x2="359.20" y2="565.80" stroke="#222" stroke-width="1.1"/>
<text x="356.80" y="568.00" font-size="6.6" text-anchor="end" fill="#4d4d4d">10.0</text>
<line x1="357.00" y1="576.10" x2="359.20" y2="576.10" stroke="#222" stroke-width="1.1"/>
<text x="356.80" y="578.30" font-size="6.6" text-anchor="end" fill="#4d4d4d">7.5</text>
<line x1="357.00" y1="586.80" x2="359.20" y2="586.80" stroke="#222" stroke-width="1.1"/>
<text x="356.80" y="589.00" font-size="6.6" text-anchor="end" fill="#4d4d4d">5.0</text>
<line x1="428.10" y1="547.00" x2="477.20" y2="547.00" stroke="#f3f3f3" stroke-width="0.6"/>
<line x1="428.10" y1="553.20" x2="477.20" y2="553.20" stroke="#ebebeb" stroke-width="0.8"/>
<line x1="428.10" y1="559.40" x2="477.20" y2="559.40" stroke="#f3f3f3" stroke-width="0.6"/>
<line x1="428.10" y1="565.60" x2="477.20" y2="565.60" stroke="#ebebeb" stroke-width="0.8"/>
<line x1="428.10" y1="571.80" x2="477.20" y2="571.80" stroke="#f3f3f3" stroke-width="0.6"/>
<line x1="428.10" y1="578.00" x2="477.20" y2="578.00" stroke="#ebebeb" stroke-width="0.8"/>
<line x1="428.10" y1="584.20" x2="477.20" y2="584.20" stroke="#f3f3f3" stroke-width="0.6"/>
<line x1="441.30" y1="542.30" x2="441.30" y2="589.60" stroke="#ebebeb" stroke-width="0.8"/>
<line x1="464.05" y1="542.30" x2="464.05" y2="589.60" stroke="#ebebeb" stroke-width="0.8"/>
<line x1="437.81" y1="585.17" x2="460.86" y2="569.33" stroke="#cfcfcf" stroke-width="0.4"/>
<line x1="442.41" y1="579.66" x2="460.78" y2="569.42" stroke="#cfcfcf" stroke-width="0.4"/>
<line x1="440.58" y1="576.46" x2="462.32" y2="575.42" stroke="#cfcfcf" stroke-width="0.4"/>
<line x1="439.80" y1="578.44" x2="464.58" y2="586.07" stroke="#cfcfcf" stroke-width="0.4"/>
<line x1="444.21" y1="579.13" x2="468.02" y2="563.90" stroke="#cfcfcf" stroke-width="0.4"/>
<line x1="443.12" y1="579.22" x2="461.68" y2="554.84" stroke="#cfcfcf" stroke-width="0.4"/>
<line x1="440.69" y1="574.28" x2="466.61" y2="583.94" stroke="#cfcfcf" stroke-width="0.4"/>
<line x1="441.30" y1="575.50" x2="441.30" y2="578.20" stroke="#2b2b2b" stroke-width="1.3"/>
<rect x="433.30" y="578.20" width="15.85" height="10.30" fill="#6FC9DD" stroke="#1a1a1a" stroke-width="0.75"/>
<line x1="433.30" y1="587.50" x2="449.15" y2="587.50" stroke="#111" stroke-width="1.3"/>
<circle cx="440.87" cy="587.09" r="0.85" fill="#111"/>
<circle cx="441.87" cy="578.84" r="0.85" fill="#111"/>
<circle cx="436.78" cy="587.34" r="0.85" fill="#111"/>
<circle cx="441.35" cy="582.22" r="0.85" fill="#111"/>
<circle cx="441.53" cy="581.39" r="0.85" fill="#111"/>
<circle cx="441.20" cy="576.91" r="0.85" fill="#111"/>
<circle cx="437.97" cy="588.07" r="0.85" fill="#111"/>
<circle cx="446.53" cy="587.66" r="0.85" fill="#111"/>
<circle cx="445.99" cy="579.21" r="0.85" fill="#111"/>
<circle cx="442.62" cy="587.29" r="0.85" fill="#111"/>
<circle cx="444.44" cy="577.58" r="0.85" fill="#111"/>
<circle cx="445.11" cy="582.54" r="0.85" fill="#111"/>
<circle cx="438.20" cy="577.88" r="0.85" fill="#111"/>
<circle cx="440.02" cy="583.62" r="0.85" fill="#111"/>
<circle cx="437.10" cy="561.40" r="0.95" fill="#111"/>
<circle cx="437.80" cy="574.40" r="0.95" fill="#111"/>
<circle cx="441.90" cy="574.60" r="0.95" fill="#111"/>
<circle cx="443.40" cy="574.20" r="0.95" fill="#111"/>
<circle cx="441.00" cy="576.40" r="0.95" fill="#111"/>
<line x1="464.05" y1="544.70" x2="464.05" y2="571.30" stroke="#2b2b2b" stroke-width="1.3"/>
<rect x="456.05" y="571.30" width="15.85" height="16.80" fill="#E2382B" stroke="#1a1a1a" stroke-width="0.75"/>
<line x1="456.05" y1="584.40" x2="471.90" y2="584.40" stroke="#111" stroke-width="1.3"/>
<circle cx="466.52" cy="575.75" r="0.85" fill="#111"/>
<circle cx="464.74" cy="546.48" r="0.85" fill="#111"/>
<circle cx="467.77" cy="546.35" r="0.85" fill="#111"/>
<circle cx="464.60" cy="581.39" r="0.85" fill="#111"/>
<circle cx="463.17" cy="576.70" r="0.85" fill="#111"/>
<circle cx="465.80" cy="578.61" r="0.85" fill="#111"/>
<circle cx="458.81" cy="578.81" r="0.85" fill="#111"/>
<circle cx="461.14" cy="579.63" r="0.85" fill="#111"/>
<circle cx="463.59" cy="578.55" r="0.85" fill="#111"/>
<circle cx="459.73" cy="579.37" r="0.85" fill="#111"/>
<circle cx="459.56" cy="578.69" r="0.85" fill="#111"/>
<circle cx="459.00" cy="579.96" r="0.85" fill="#111"/>
<circle cx="466.62" cy="573.12" r="0.85" fill="#111"/>
<circle cx="459.15" cy="566.90" r="0.85" fill="#111"/>
<circle cx="469.01" cy="577.85" r="0.85" fill="#111"/>
<circle cx="469.51" cy="585.51" r="0.85" fill="#111"/>
<circle cx="460.68" cy="584.84" r="0.85" fill="#111"/>
<circle cx="469.07" cy="566.05" r="0.85" fill="#111"/>
<circle cx="467.22" cy="551.87" r="0.85" fill="#111"/>
<circle cx="462.41" cy="547.54" r="0.85" fill="#111"/>
<circle cx="468.41" cy="551.59" r="0.85" fill="#111"/>
<circle cx="460.13" cy="584.85" r="0.85" fill="#111"/>
<circle cx="460.84" cy="586.52" r="0.85" fill="#111"/>
<circle cx="462.06" cy="579.90" r="0.85" fill="#111"/>
<circle cx="460.32" cy="574.71" r="0.85" fill="#111"/>
<circle cx="468.40" cy="574.20" r="0.85" fill="#111"/>
<circle cx="460.00" cy="550.30" r="0.95" fill="#111"/>
<circle cx="460.00" cy="557.20" r="0.95" fill="#111"/>
<circle cx="461.30" cy="561.30" r="0.95" fill="#111"/>
<circle cx="466.20" cy="560.30" r="0.95" fill="#111"/>
<circle cx="460.30" cy="565.70" r="0.95" fill="#111"/>
<circle cx="466.80" cy="566.80" r="0.95" fill="#111"/>
<circle cx="467.60" cy="567.40" r="0.95" fill="#111"/>
<rect x="428.10" y="527.90" width="49.10" height="14.40" fill="#D9D9D9" stroke="#4d4d4d" stroke-width="0.6"/>
<text x="452.65" y="536.90" font-size="5.9" text-anchor="middle" fill="#1a1a1a" font-style="italic" stroke="#1a1a1a" stroke-width="0.12">Fusobacterium*</text>
<line x1="428.10" y1="542.30" x2="477.20" y2="542.30" stroke="#222" stroke-width="1.1"/>
<rect x="428.10" y="542.30" width="49.10" height="47.30" fill="none" stroke="#333" stroke-width="0.8"/>
<line x1="425.90" y1="553.20" x2="428.10" y2="553.20" stroke="#222" stroke-width="1.1"/>
<text x="425.70" y="555.40" font-size="6.6" text-anchor="end" fill="#4d4d4d">16</text>
<line x1="425.90" y1="565.60" x2="428.10" y2="565.60" stroke="#222" stroke-width="1.1"/>
<text x="425.70" y="567.80" font-size="6.6" text-anchor="end" fill="#4d4d4d">12</text>
<line x1="425.90" y1="577.90" x2="428.10" y2="577.90" stroke="#222" stroke-width="1.1"/>
<text x="425.70" y="580.10" font-size="6.6" text-anchor="end" fill="#4d4d4d">8</text>
<line x1="425.90" y1="589.60" x2="428.10" y2="589.60" stroke="#222" stroke-width="1.1"/>
<text x="425.70" y="591.80" font-size="6.6" text-anchor="end" fill="#4d4d4d">4</text>
<line x1="491.20" y1="545.15" x2="540.30" y2="545.15" stroke="#f3f3f3" stroke-width="0.6"/>
<line x1="491.20" y1="550.40" x2="540.30" y2="550.40" stroke="#ebebeb" stroke-width="0.8"/>
<line x1="491.20" y1="555.65" x2="540.30" y2="555.65" stroke="#f3f3f3" stroke-width="0.6"/>
<line x1="491.20" y1="560.90" x2="540.30" y2="560.90" stroke="#ebebeb" stroke-width="0.8"/>
<line x1="491.20" y1="566.15" x2="540.30" y2="566.15" stroke="#f3f3f3" stroke-width="0.6"/>
<line x1="491.20" y1="571.40" x2="540.30" y2="571.40" stroke="#ebebeb" stroke-width="0.8"/>
<line x1="491.20" y1="576.65" x2="540.30" y2="576.65" stroke="#f3f3f3" stroke-width="0.6"/>
<line x1="491.20" y1="581.90" x2="540.30" y2="581.90" stroke="#ebebeb" stroke-width="0.8"/>
<line x1="491.20" y1="587.15" x2="540.30" y2="587.15" stroke="#f3f3f3" stroke-width="0.6"/>
<line x1="504.40" y1="542.30" x2="504.40" y2="589.60" stroke="#ebebeb" stroke-width="0.8"/>
<line x1="527.15" y1="542.30" x2="527.15" y2="589.60" stroke="#ebebeb" stroke-width="0.8"/>
<line x1="501.32" y1="584.67" x2="527.40" y2="578.96" stroke="#cfcfcf" stroke-width="0.4"/>
<line x1="507.38" y1="586.55" x2="527.59" y2="561.11" stroke="#cfcfcf" stroke-width="0.4"/>
<line x1="501.24" y1="586.32" x2="531.09" y2="583.07" stroke="#cfcfcf" stroke-width="0.4"/>
<line x1="506.78" y1="586.52" x2="525.27" y2="562.56" stroke="#cfcfcf" stroke-width="0.4"/>
<line x1="503.28" y1="587.96" x2="529.27" y2="570.25" stroke="#cfcfcf" stroke-width="0.4"/>
<line x1="506.35" y1="585.77" x2="523.54" y2="553.42" stroke="#cfcfcf" stroke-width="0.4"/>
<line x1="505.51" y1="587.28" x2="531.02" y2="556.65" stroke="#cfcfcf" stroke-width="0.4"/>
<rect x="496.40" y="587.40" width="15.85" height="1.60" fill="#222" stroke="none" stroke-width="0.6"/>
<circle cx="506.20" cy="588.29" r="0.85" fill="#111"/>
<circle cx="498.92" cy="588.16" r="0.85" fill="#111"/>
<circle cx="500.54" cy="588.02" r="0.85" fill="#111"/>
<circle cx="503.65" cy="588.31" r="0.85" fill="#111"/>
<circle cx="508.75" cy="588.26" r="0.85" fill="#111"/>
<circle cx="501.40" cy="588.07" r="0.85" fill="#111"/>
<circle cx="499.15" cy="588.33" r="0.85" fill="#111"/>
<circle cx="502.80" cy="588.00" r="0.85" fill="#111"/>
<circle cx="502.83" cy="588.05" r="0.85" fill="#111"/>
<circle cx="505.32" cy="588.11" r="0.85" fill="#111"/>
<circle cx="501.15" cy="588.29" r="0.85" fill="#111"/>
<circle cx="504.12" cy="588.31" r="0.85" fill="#111"/>
<circle cx="509.20" cy="588.07" r="0.85" fill="#111"/>
<circle cx="500.54" cy="588.12" r="0.85" fill="#111"/>
<circle cx="503.80" cy="575.80" r="0.95" fill="#111"/>
<circle cx="505.80" cy="579.00" r="0.95" fill="#111"/>
<line x1="527.15" y1="544.00" x2="527.15" y2="570.40" stroke="#2b2b2b" stroke-width="1.3"/>
<rect x="519.15" y="570.40" width="15.85" height="17.90" fill="#E2382B" stroke="#1a1a1a" stroke-width="0.75"/>
<line x1="519.15" y1="587.90" x2="535.00" y2="587.90" stroke="#111" stroke-width="1.3"/>
<circle cx="531.23" cy="581.81" r="0.85" fill="#111"/>
<circle cx="524.56" cy="561.81" r="0.85" fill="#111"/>
<circle cx="527.84" cy="581.93" r="0.85" fill="#111"/>
<circle cx="526.53" cy="581.94" r="0.85" fill="#111"/>
<circle cx="524.38" cy="576.50" r="0.85" fill="#111"/>
<circle cx="527.50" cy="545.95" r="0.85" fill="#111"/>
<circle cx="522.29" cy="574.96" r="0.85" fill="#111"/>
<circle cx="527.71" cy="544.55" r="0.85" fill="#111"/>
<circle cx="523.84" cy="550.30" r="0.85" fill="#111"/>
<circle cx="528.71" cy="579.57" r="0.85" fill="#111"/>
<circle cx="525.05" cy="551.74" r="0.85" fill="#111"/>
<circle cx="531.43" cy="571.73" r="0.85" fill="#111"/>
<circle cx="521.72" cy="575.69" r="0.85" fill="#111"/>
<circle cx="526.77" cy="577.01" r="0.85" fill="#111"/>
<circle cx="524.14" cy="578.64" r="0.85" fill="#111"/>
<circle cx="522.08" cy="574.87" r="0.85" fill="#111"/>
<circle cx="529.30" cy="583.72" r="0.85" fill="#111"/>
<circle cx="524.58" cy="575.53" r="0.85" fill="#111"/>
<circle cx="530.32" cy="578.36" r="0.85" fill="#111"/>
<circle cx="528.71" cy="575.44" r="0.85" fill="#111"/>
<circle cx="531.33" cy="553.61" r="0.85" fill="#111"/>
<circle cx="524.25" cy="575.35" r="0.85" fill="#111"/>
<circle cx="529.86" cy="587.05" r="0.85" fill="#111"/>
<circle cx="525.26" cy="585.95" r="0.85" fill="#111"/>
<circle cx="528.59" cy="586.42" r="0.85" fill="#111"/>
<circle cx="532.42" cy="582.28" r="0.85" fill="#111"/>
<circle cx="530.60" cy="545.90" r="0.95" fill="#111"/>
<circle cx="530.60" cy="549.00" r="0.95" fill="#111"/>
<circle cx="525.00" cy="552.20" r="0.95" fill="#111"/>
<circle cx="530.30" cy="558.60" r="0.95" fill="#111"/>
<circle cx="524.50" cy="563.70" r="0.95" fill="#111"/>
<circle cx="530.50" cy="564.30" r="0.95" fill="#111"/>
<circle cx="523.30" cy="566.80" r="0.95" fill="#111"/>
<circle cx="524.00" cy="567.80" r="0.95" fill="#111"/>
<rect x="491.20" y="527.90" width="49.10" height="14.40" fill="#D9D9D9" stroke="#4d4d4d" stroke-width="0.6"/>
<text x="515.75" y="536.90" font-size="5.9" text-anchor="middle" fill="#1a1a1a" font-style="italic" stroke="#1a1a1a" stroke-width="0.12">Anaeroglobus*</text>
<line x1="491.20" y1="542.30" x2="540.30" y2="542.30" stroke="#222" stroke-width="1.1"/>
<rect x="491.20" y="542.30" width="49.10" height="47.30" fill="none" stroke="#333" stroke-width="0.8"/>
<line x1="489.00" y1="550.40" x2="491.20" y2="550.40" stroke="#222" stroke-width="1.1"/>
<text x="488.80" y="552.60" font-size="6.6" text-anchor="end" fill="#4d4d4d">12</text>
<line x1="489.00" y1="560.90" x2="491.20" y2="560.90" stroke="#222" stroke-width="1.1"/>
<text x="488.80" y="563.10" font-size="6.6" text-anchor="end" fill="#4d4d4d">10</text>
<line x1="489.00" y1="571.20" x2="491.20" y2="571.20" stroke="#222" stroke-width="1.1"/>
<text x="488.80" y="573.40" font-size="6.6" text-anchor="end" fill="#4d4d4d">8</text>
<line x1="489.00" y1="581.20" x2="491.20" y2="581.20" stroke="#222" stroke-width="1.1"/>
<text x="488.80" y="583.40" font-size="6.6" text-anchor="end" fill="#4d4d4d">6</text>
<line x1="559.20" y1="542.70" x2="608.30" y2="542.70" stroke="#ebebeb" stroke-width="0.8"/>
<line x1="559.20" y1="548.30" x2="608.30" y2="548.30" stroke="#f3f3f3" stroke-width="0.6"/>
<line x1="559.20" y1="553.90" x2="608.30" y2="553.90" stroke="#ebebeb" stroke-width="0.8"/>
<line x1="559.20" y1="559.50" x2="608.30" y2="559.50" stroke="#f3f3f3" stroke-width="0.6"/>
<line x1="559.20" y1="565.10" x2="608.30" y2="565.10" stroke="#ebebeb" stroke-width="0.8"/>
<line x1="559.20" y1="570.70" x2="608.30" y2="570.70" stroke="#f3f3f3" stroke-width="0.6"/>
<line x1="559.20" y1="576.30" x2="608.30" y2="576.30" stroke="#ebebeb" stroke-width="0.8"/>
<line x1="559.20" y1="581.90" x2="608.30" y2="581.90" stroke="#f3f3f3" stroke-width="0.6"/>
<line x1="559.20" y1="587.50" x2="608.30" y2="587.50" stroke="#ebebeb" stroke-width="0.8"/>
<line x1="572.40" y1="542.30" x2="572.40" y2="589.60" stroke="#ebebeb" stroke-width="0.8"/>
<line x1="595.15" y1="542.30" x2="595.15" y2="589.60" stroke="#ebebeb" stroke-width="0.8"/>
<line x1="573.98" y1="585.88" x2="598.01" y2="586.37" stroke="#cfcfcf" stroke-width="0.4"/>
<line x1="572.96" y1="585.75" x2="593.61" y2="585.19" stroke="#cfcfcf" stroke-width="0.4"/>
<line x1="569.02" y1="584.85" x2="598.44" y2="584.15" stroke="#cfcfcf" stroke-width="0.4"/>
<line x1="569.25" y1="584.58" x2="598.58" y2="578.07" stroke="#cfcfcf" stroke-width="0.4"/>
<line x1="568.63" y1="585.38" x2="591.48" y2="579.25" stroke="#cfcfcf" stroke-width="0.4"/>
<line x1="573.98" y1="586.77" x2="597.04" y2="584.27" stroke="#cfcfcf" stroke-width="0.4"/>
<line x1="571.31" y1="584.26" x2="597.69" y2="583.82" stroke="#cfcfcf" stroke-width="0.4"/>
<rect x="564.40" y="587.40" width="15.85" height="1.60" fill="#222" stroke="none" stroke-width="0.6"/>
<circle cx="576.70" cy="588.41" r="0.85" fill="#111"/>
<circle cx="576.45" cy="588.03" r="0.85" fill="#111"/>
<circle cx="577.29" cy="588.46" r="0.85" fill="#111"/>
<circle cx="569.16" cy="588.05" r="0.85" fill="#111"/>
<circle cx="567.28" cy="588.06" r="0.85" fill="#111"/>
<circle cx="575.83" cy="588.42" r="0.85" fill="#111"/>
<circle cx="575.98" cy="588.32" r="0.85" fill="#111"/>
<circle cx="570.06" cy="588.32" r="0.85" fill="#111"/>
<circle cx="567.98" cy="588.05" r="0.85" fill="#111"/>
<circle cx="569.15" cy="588.38" r="0.85" fill="#111"/>
<circle cx="571.56" cy="588.16" r="0.85" fill="#111"/>
<circle cx="569.72" cy="588.01" r="0.85" fill="#111"/>
<circle cx="574.77" cy="588.14" r="0.85" fill="#111"/>
<circle cx="570.43" cy="588.18" r="0.85" fill="#111"/>
<circle cx="572.00" cy="568.50" r="0.95" fill="#111"/>
<circle cx="568.00" cy="577.60" r="0.95" fill="#111"/>
<circle cx="573.20" cy="580.00" r="0.95" fill="#111"/>
<circle cx="570.50" cy="584.50" r="0.95" fill="#111"/>
<circle cx="572.90" cy="583.50" r="0.95" fill="#111"/>
<line x1="595.15" y1="575.80" x2="595.15" y2="582.80" stroke="#2b2b2b" stroke-width="1.3"/>
<rect x="587.15" y="582.80" width="15.85" height="5.50" fill="#E2382B" stroke="#1a1a1a" stroke-width="0.75"/>
<line x1="587.15" y1="586.00" x2="603.00" y2="586.00" stroke="#111" stroke-width="1.3"/>
<circle cx="599.02" cy="582.10" r="0.85" fill="#111"/>
<circle cx="594.19" cy="583.45" r="0.85" fill="#111"/>
<circle cx="593.46" cy="586.93" r="0.85" fill="#111"/>
<circle cx="592.03" cy="585.83" r="0.85" fill="#111"/>
<circle cx="598.67" cy="576.94" r="0.85" fill="#111"/>
<circle cx="591.87" cy="583.31" r="0.85" fill="#111"/>
<circle cx="589.70" cy="588.02" r="0.85" fill="#111"/>
<circle cx="598.41" cy="585.61" r="0.85" fill="#111"/>
<circle cx="593.47" cy="585.62" r="0.85" fill="#111"/>
<circle cx="600.03" cy="579.06" r="0.85" fill="#111"/>
<circle cx="597.34" cy="584.31" r="0.85" fill="#111"/>
<circle cx="596.65" cy="583.82" r="0.85" fill="#111"/>
<circle cx="597.32" cy="587.00" r="0.85" fill="#111"/>
<circle cx="593.56" cy="583.65" r="0.85" fill="#111"/>
<circle cx="599.44" cy="585.15" r="0.85" fill="#111"/>
<circle cx="589.93" cy="587.48" r="0.85" fill="#111"/>
<circle cx="599.56" cy="584.54" r="0.85" fill="#111"/>
<circle cx="599.37" cy="585.08" r="0.85" fill="#111"/>
<circle cx="595.50" cy="585.47" r="0.85" fill="#111"/>
<circle cx="596.76" cy="585.21" r="0.85" fill="#111"/>
<circle cx="591.36" cy="584.84" r="0.85" fill="#111"/>
<circle cx="597.81" cy="584.08" r="0.85" fill="#111"/>
<circle cx="598.16" cy="585.36" r="0.85" fill="#111"/>
<circle cx="594.73" cy="583.89" r="0.85" fill="#111"/>
<circle cx="591.76" cy="578.77" r="0.85" fill="#111"/>
<circle cx="598.93" cy="586.60" r="0.85" fill="#111"/>
<circle cx="599.20" cy="544.80" r="0.95" fill="#111"/>
<circle cx="591.00" cy="558.30" r="0.95" fill="#111"/>
<circle cx="593.60" cy="562.50" r="0.95" fill="#111"/>
<circle cx="598.00" cy="561.20" r="0.95" fill="#111"/>
<circle cx="597.00" cy="568.30" r="0.95" fill="#111"/>
<circle cx="592.00" cy="572.20" r="0.95" fill="#111"/>
<circle cx="594.50" cy="578.60" r="0.95" fill="#111"/>
<circle cx="596.20" cy="580.00" r="0.95" fill="#111"/>
<rect x="559.20" y="527.90" width="49.10" height="14.40" fill="#D9D9D9" stroke="#4d4d4d" stroke-width="0.6"/>
<text x="583.75" y="536.90" font-size="5.9" text-anchor="middle" fill="#1a1a1a" font-style="italic" stroke="#1a1a1a" stroke-width="0.12">Alloprevotella*</text>
<line x1="559.20" y1="542.30" x2="608.30" y2="542.30" stroke="#222" stroke-width="1.1"/>
<rect x="559.20" y="542.30" width="49.10" height="47.30" fill="none" stroke="#333" stroke-width="0.8"/>
<line x1="557.00" y1="553.90" x2="559.20" y2="553.90" stroke="#222" stroke-width="1.1"/>
<text x="556.80" y="556.10" font-size="6.6" text-anchor="end" fill="#4d4d4d">20</text>
<line x1="557.00" y1="565.10" x2="559.20" y2="565.10" stroke="#222" stroke-width="1.1"/>
<text x="556.80" y="567.30" font-size="6.6" text-anchor="end" fill="#4d4d4d">15</text>
<line x1="557.00" y1="576.30" x2="559.20" y2="576.30" stroke="#222" stroke-width="1.1"/>
<text x="556.80" y="578.50" font-size="6.6" text-anchor="end" fill="#4d4d4d">10</text>
<line x1="557.00" y1="587.80" x2="559.20" y2="587.80" stroke="#222" stroke-width="1.1"/>
<text x="556.80" y="590.00" font-size="6.6" text-anchor="end" fill="#4d4d4d">5</text>
<line x1="622.20" y1="547.30" x2="671.30" y2="547.30" stroke="#ebebeb" stroke-width="0.8"/>
<line x1="622.20" y1="554.55" x2="671.30" y2="554.55" stroke="#f3f3f3" stroke-width="0.6"/>
<line x1="622.20" y1="561.80" x2="671.30" y2="561.80" stroke="#ebebeb" stroke-width="0.8"/>
<line x1="622.20" y1="569.05" x2="671.30" y2="569.05" stroke="#f3f3f3" stroke-width="0.6"/>
<line x1="622.20" y1="576.30" x2="671.30" y2="576.30" stroke="#ebebeb" stroke-width="0.8"/>
<line x1="622.20" y1="583.55" x2="671.30" y2="583.55" stroke="#f3f3f3" stroke-width="0.6"/>
<line x1="635.40" y1="542.30" x2="635.40" y2="589.60" stroke="#ebebeb" stroke-width="0.8"/>
<line x1="658.15" y1="542.30" x2="658.15" y2="589.60" stroke="#ebebeb" stroke-width="0.8"/>
<line x1="633.38" y1="578.02" x2="656.76" y2="562.00" stroke="#cfcfcf" stroke-width="0.4"/>
<line x1="634.02" y1="582.36" x2="655.66" y2="562.16" stroke="#cfcfcf" stroke-width="0.4"/>
<line x1="632.21" y1="587.71" x2="661.85" y2="579.64" stroke="#cfcfcf" stroke-width="0.4"/>
<line x1="639.27" y1="577.40" x2="660.51" y2="569.03" stroke="#cfcfcf" stroke-width="0.4"/>
<line x1="632.97" y1="584.85" x2="659.25" y2="570.60" stroke="#cfcfcf" stroke-width="0.4"/>
<line x1="634.51" y1="577.46" x2="654.42" y2="563.56" stroke="#cfcfcf" stroke-width="0.4"/>
<line x1="636.95" y1="580.91" x2="658.15" y2="581.56" stroke="#cfcfcf" stroke-width="0.4"/>
<line x1="635.40" y1="570.40" x2="635.40" y2="580.20" stroke="#2b2b2b" stroke-width="1.3"/>
<rect x="627.40" y="580.20" width="15.85" height="8.50" fill="#6FC9DD" stroke="#1a1a1a" stroke-width="0.75"/>
<line x1="627.40" y1="583.60" x2="643.25" y2="583.60" stroke="#111" stroke-width="1.3"/>
<circle cx="631.46" cy="584.27" r="0.85" fill="#111"/>
<circle cx="638.05" cy="583.82" r="0.85" fill="#111"/>
<circle cx="636.21" cy="578.27" r="0.85" fill="#111"/>
<circle cx="632.41" cy="583.94" r="0.85" fill="#111"/>
<circle cx="638.41" cy="587.48" r="0.85" fill="#111"/>
<circle cx="637.38" cy="587.26" r="0.85" fill="#111"/>
<circle cx="633.34" cy="584.20" r="0.85" fill="#111"/>
<circle cx="634.52" cy="581.45" r="0.85" fill="#111"/>
<circle cx="636.83" cy="583.45" r="0.85" fill="#111"/>
<circle cx="634.91" cy="583.96" r="0.85" fill="#111"/>
<circle cx="637.33" cy="583.85" r="0.85" fill="#111"/>
<circle cx="637.10" cy="573.75" r="0.85" fill="#111"/>
<circle cx="635.29" cy="577.51" r="0.85" fill="#111"/>
<circle cx="635.88" cy="571.10" r="0.85" fill="#111"/>
<circle cx="635.20" cy="562.70" r="0.95" fill="#111"/>
<circle cx="635.60" cy="566.40" r="0.95" fill="#111"/>
<circle cx="631.30" cy="573.50" r="0.95" fill="#111"/>
<circle cx="636.00" cy="576.20" r="0.95" fill="#111"/>
<circle cx="638.50" cy="575.80" r="0.95" fill="#111"/>
<line x1="658.15" y1="555.20" x2="658.15" y2="571.30" stroke="#2b2b2b" stroke-width="1.3"/>
<rect x="650.15" y="571.30" width="15.85" height="17.40" fill="#E2382B" stroke="#1a1a1a" stroke-width="0.75"/>
<line x1="650.15" y1="580.00" x2="666.00" y2="580.00" stroke="#111" stroke-width="1.3"/>
<circle cx="663.00" cy="584.78" r="0.85" fill="#111"/>
<circle cx="658.97" cy="573.48" r="0.85" fill="#111"/>
<circle cx="658.28" cy="583.71" r="0.85" fill="#111"/>
<circle cx="658.39" cy="585.56" r="0.85" fill="#111"/>
<circle cx="654.96" cy="587.54" r="0.85" fill="#111"/>
<circle cx="661.04" cy="578.32" r="0.85" fill="#111"/>
<circle cx="656.56" cy="588.14" r="0.85" fill="#111"/>
<circle cx="657.05" cy="576.35" r="0.85" fill="#111"/>
<circle cx="657.28" cy="578.75" r="0.85" fill="#111"/>
<circle cx="655.57" cy="577.65" r="0.85" fill="#111"/>
<circle cx="662.99" cy="584.11" r="0.85" fill="#111"/>
<circle cx="661.47" cy="575.43" r="0.85" fill="#111"/>
<circle cx="654.07" cy="575.32" r="0.85" fill="#111"/>
<circle cx="659.63" cy="582.32" r="0.85" fill="#111"/>
<circle cx="655.14" cy="581.13" r="0.85" fill="#111"/>
<circle cx="659.68" cy="567.03" r="0.85" fill="#111"/>
<circle cx="657.80" cy="582.54" r="0.85" fill="#111"/>
<circle cx="654.03" cy="580.90" r="0.85" fill="#111"/>
<circle cx="662.01" cy="567.08" r="0.85" fill="#111"/>
<circle cx="655.44" cy="578.04" r="0.85" fill="#111"/>
<circle cx="652.68" cy="574.89" r="0.85" fill="#111"/>
<circle cx="655.34" cy="576.47" r="0.85" fill="#111"/>
<circle cx="657.36" cy="579.76" r="0.85" fill="#111"/>
<circle cx="656.64" cy="582.74" r="0.85" fill="#111"/>
<circle cx="653.28" cy="583.82" r="0.85" fill="#111"/>
<circle cx="661.27" cy="585.54" r="0.85" fill="#111"/>
<circle cx="660.80" cy="545.00" r="0.95" fill="#111"/>
<circle cx="654.50" cy="557.00" r="0.95" fill="#111"/>
<circle cx="656.20" cy="560.30" r="0.95" fill="#111"/>
<circle cx="662.40" cy="555.50" r="0.95" fill="#111"/>
<circle cx="663.80" cy="555.60" r="0.95" fill="#111"/>
<circle cx="656.00" cy="568.10" r="0.95" fill="#111"/>
<circle cx="661.80" cy="567.20" r="0.95" fill="#111"/>
<rect x="622.20" y="527.90" width="49.10" height="14.40" fill="#D9D9D9" stroke="#4d4d4d" stroke-width="0.6"/>
<text x="646.75" y="536.90" font-size="5.9" text-anchor="middle" fill="#1a1a1a" font-style="italic" stroke="#1a1a1a" stroke-width="0.12">Dialister*</text>
<line x1="622.20" y1="542.30" x2="671.30" y2="542.30" stroke="#222" stroke-width="1.1"/>
<rect x="622.20" y="542.30" width="49.10" height="47.30" fill="none" stroke="#333" stroke-width="0.8"/>
<line x1="620.00" y1="547.30" x2="622.20" y2="547.30" stroke="#222" stroke-width="1.1"/>
<text x="619.80" y="549.50" font-size="6.6" text-anchor="end" fill="#4d4d4d">16</text>
<line x1="620.00" y1="561.80" x2="622.20" y2="561.80" stroke="#222" stroke-width="1.1"/>
<text x="619.80" y="564.00" font-size="6.6" text-anchor="end" fill="#4d4d4d">12</text>
<line x1="620.00" y1="576.10" x2="622.20" y2="576.10" stroke="#222" stroke-width="1.1"/>
<text x="619.80" y="578.30" font-size="6.6" text-anchor="end" fill="#4d4d4d">8</text>
<line x1="620.00" y1="590.10" x2="622.20" y2="590.10" stroke="#222" stroke-width="1.1"/>
<text x="619.80" y="592.30" font-size="6.6" text-anchor="end" fill="#4d4d4d">4</text>
</svg>
</body></html>
